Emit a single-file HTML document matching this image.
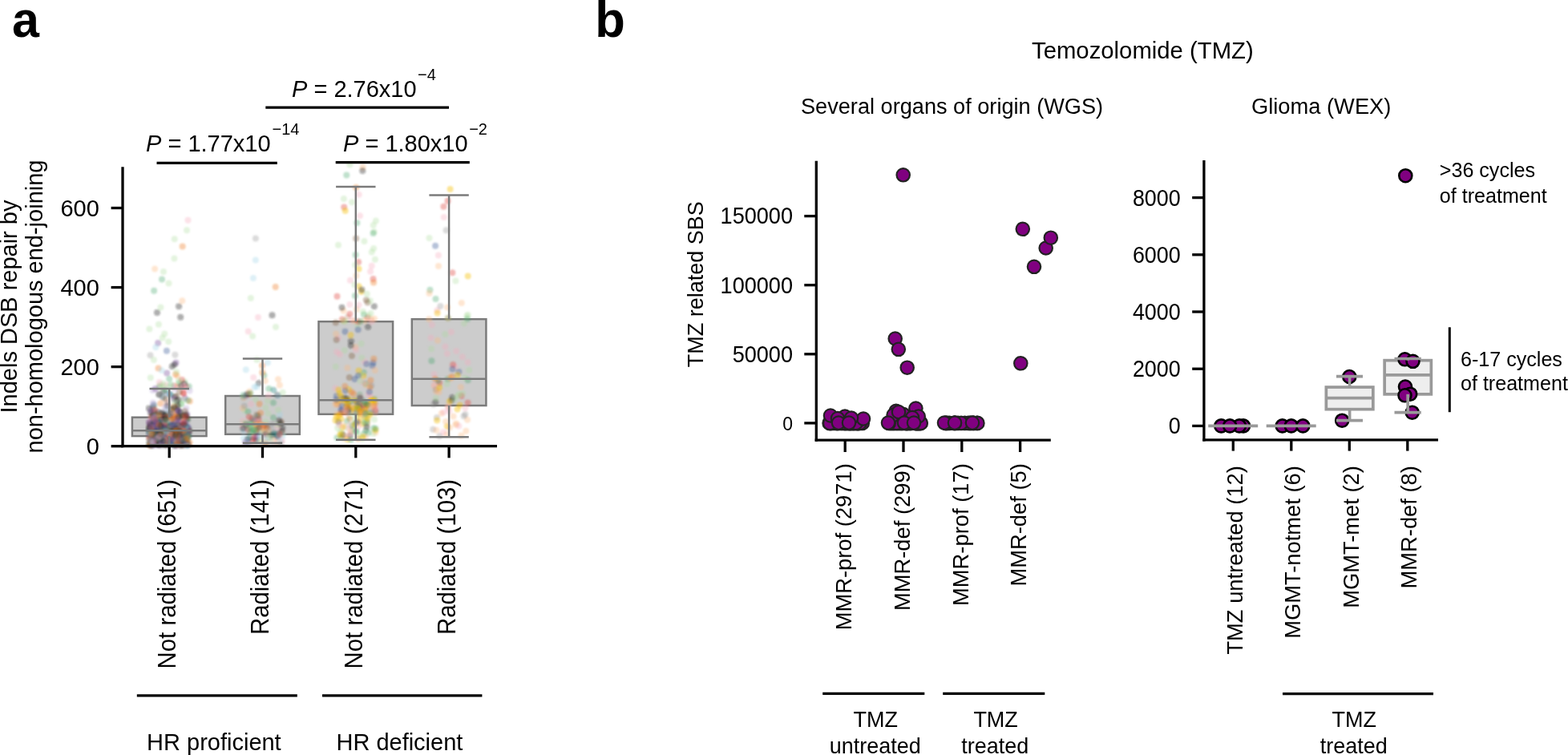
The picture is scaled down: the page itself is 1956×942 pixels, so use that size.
<!DOCTYPE html>
<html><head><meta charset="utf-8"><title>Figure</title>
<style>
html,body{margin:0;padding:0;background:#fff;}
svg{display:block;}
text{font-family:"Liberation Sans", Arial, Helvetica, sans-serif;fill:#000;}
</style></head>
<body>
<svg width="1956" height="942" viewBox="0 0 1956 942">
<defs><filter id="soft" x="0" y="0" width="1" height="1" filterUnits="objectBoundingBox"><feGaussianBlur stdDeviation="0.9"/></filter></defs>
<rect width="1956" height="942" fill="#fff"/>
<text transform="translate(15.00,46.10) scale(1,1.03)" font-size="61" text-anchor="start" font-weight="bold">a</text>
<rect x="164.90" y="520.70" width="92.60" height="23.40" fill="#cccccc" stroke="#7b7b7b" stroke-width="2.5"/>
<rect x="281.20" y="494.00" width="92.60" height="47.80" fill="#cccccc" stroke="#7b7b7b" stroke-width="2.5"/>
<rect x="397.50" y="401.20" width="92.60" height="115.60" fill="#cccccc" stroke="#7b7b7b" stroke-width="2.5"/>
<rect x="513.80" y="398.20" width="92.60" height="107.80" fill="#cccccc" stroke="#7b7b7b" stroke-width="2.5"/>
<g filter="url(#soft)">
<circle cx="206.4" cy="540.9" r="4.0" fill="#7a4a9c" fill-opacity="0.374"/>
<circle cx="188.7" cy="544.1" r="4.0" fill="#1c7c78" fill-opacity="0.374"/>
<circle cx="186.3" cy="527.6" r="4.0" fill="#f6a9bd" fill-opacity="0.340"/>
<circle cx="233.7" cy="523.6" r="4.0" fill="#222222" fill-opacity="0.374"/>
<circle cx="195.9" cy="549.5" r="4.0" fill="#e0413a" fill-opacity="0.374"/>
<circle cx="211.6" cy="520.7" r="4.0" fill="#888888" fill-opacity="0.306"/>
<circle cx="227.2" cy="549.9" r="4.0" fill="#222222" fill-opacity="0.374"/>
<circle cx="201.5" cy="525.1" r="4.0" fill="#7a4a9c" fill-opacity="0.374"/>
<circle cx="188.2" cy="552.9" r="4.0" fill="#fbb77a" fill-opacity="0.340"/>
<circle cx="225.6" cy="551.8" r="4.0" fill="#1c7c78" fill-opacity="0.374"/>
<circle cx="186.0" cy="534.0" r="4.0" fill="#7d5a3c" fill-opacity="0.374"/>
<circle cx="223.7" cy="536.3" r="4.0" fill="#a8dc98" fill-opacity="0.306"/>
<circle cx="223.5" cy="477.9" r="4.0" fill="#2e9e5b" fill-opacity="0.306"/>
<circle cx="197.2" cy="520.7" r="4.0" fill="#222222" fill-opacity="0.374"/>
<circle cx="197.5" cy="555.1" r="4.0" fill="#222222" fill-opacity="0.374"/>
<circle cx="202.8" cy="543.3" r="4.0" fill="#1c7c78" fill-opacity="0.374"/>
<circle cx="221.2" cy="544.0" r="4.0" fill="#7d5a3c" fill-opacity="0.374"/>
<circle cx="222.0" cy="522.1" r="4.0" fill="#7a4a9c" fill-opacity="0.374"/>
<circle cx="213.9" cy="540.6" r="4.0" fill="#a8dc98" fill-opacity="0.306"/>
<circle cx="225.9" cy="504.0" r="4.0" fill="#2e9e5b" fill-opacity="0.306"/>
<circle cx="199.2" cy="543.4" r="4.0" fill="#888888" fill-opacity="0.306"/>
<circle cx="234.9" cy="535.1" r="4.0" fill="#222222" fill-opacity="0.374"/>
<circle cx="230.6" cy="476.3" r="4.0" fill="#a8dc98" fill-opacity="0.306"/>
<circle cx="199.0" cy="536.9" r="4.0" fill="#7a4a9c" fill-opacity="0.374"/>
<circle cx="223.6" cy="523.2" r="4.0" fill="#3a5a9a" fill-opacity="0.374"/>
<circle cx="223.8" cy="550.0" r="4.0" fill="#7a4a9c" fill-opacity="0.374"/>
<circle cx="230.6" cy="496.7" r="4.0" fill="#7a4a9c" fill-opacity="0.374"/>
<circle cx="197.9" cy="516.6" r="4.0" fill="#b9a3d6" fill-opacity="0.340"/>
<circle cx="217.9" cy="537.2" r="4.0" fill="#9fd3e8" fill-opacity="0.340"/>
<circle cx="219.6" cy="546.8" r="4.0" fill="#3a5a9a" fill-opacity="0.374"/>
<circle cx="209.6" cy="543.7" r="4.0" fill="#7d5a3c" fill-opacity="0.374"/>
<circle cx="221.3" cy="469.3" r="4.0" fill="#fbb77a" fill-opacity="0.340"/>
<circle cx="208.0" cy="530.9" r="4.0" fill="#1c7c78" fill-opacity="0.374"/>
<circle cx="214.8" cy="541.5" r="4.0" fill="#7a4a9c" fill-opacity="0.374"/>
<circle cx="196.5" cy="518.3" r="4.0" fill="#e0413a" fill-opacity="0.374"/>
<circle cx="189.7" cy="550.5" r="4.0" fill="#b9a3d6" fill-opacity="0.340"/>
<circle cx="193.1" cy="543.5" r="4.0" fill="#222222" fill-opacity="0.374"/>
<circle cx="191.1" cy="548.1" r="4.0" fill="#b9a3d6" fill-opacity="0.340"/>
<circle cx="203.3" cy="495.7" r="4.0" fill="#222222" fill-opacity="0.374"/>
<circle cx="187.2" cy="532.1" r="4.0" fill="#222222" fill-opacity="0.374"/>
<circle cx="221.0" cy="540.1" r="4.0" fill="#888888" fill-opacity="0.306"/>
<circle cx="221.2" cy="549.3" r="4.0" fill="#1c7c78" fill-opacity="0.374"/>
<circle cx="189.1" cy="520.4" r="4.0" fill="#e0413a" fill-opacity="0.374"/>
<circle cx="204.2" cy="535.9" r="4.0" fill="#7d5a3c" fill-opacity="0.374"/>
<circle cx="227.5" cy="531.7" r="4.0" fill="#fbb77a" fill-opacity="0.340"/>
<circle cx="189.1" cy="551.3" r="4.0" fill="#7d5a3c" fill-opacity="0.374"/>
<circle cx="232.3" cy="509.4" r="4.0" fill="#b9a3d6" fill-opacity="0.340"/>
<circle cx="191.2" cy="522.7" r="4.0" fill="#222222" fill-opacity="0.374"/>
<circle cx="191.4" cy="515.3" r="4.0" fill="#222222" fill-opacity="0.374"/>
<circle cx="228.9" cy="539.1" r="4.0" fill="#7d5a3c" fill-opacity="0.374"/>
<circle cx="218.0" cy="525.4" r="4.0" fill="#7d5a3c" fill-opacity="0.374"/>
<circle cx="217.9" cy="536.8" r="4.0" fill="#7a4a9c" fill-opacity="0.374"/>
<circle cx="190.8" cy="539.4" r="4.0" fill="#222222" fill-opacity="0.374"/>
<circle cx="224.3" cy="555.6" r="4.0" fill="#222222" fill-opacity="0.374"/>
<circle cx="202.0" cy="348.6" r="4.0" fill="#2e9e5b" fill-opacity="0.306"/>
<circle cx="186.8" cy="538.7" r="4.0" fill="#7a4a9c" fill-opacity="0.374"/>
<circle cx="200.1" cy="548.4" r="4.0" fill="#1c7c78" fill-opacity="0.374"/>
<circle cx="204.5" cy="527.1" r="4.0" fill="#7a4a9c" fill-opacity="0.374"/>
<circle cx="234.9" cy="541.6" r="4.0" fill="#2e9e5b" fill-opacity="0.306"/>
<circle cx="229.1" cy="490.9" r="4.0" fill="#e0413a" fill-opacity="0.374"/>
<circle cx="187.3" cy="536.7" r="4.0" fill="#f07f22" fill-opacity="0.374"/>
<circle cx="208.0" cy="547.1" r="4.0" fill="#1c7c78" fill-opacity="0.374"/>
<circle cx="203.4" cy="493.9" r="4.0" fill="#9fd3e8" fill-opacity="0.340"/>
<circle cx="213.1" cy="536.5" r="4.0" fill="#222222" fill-opacity="0.374"/>
<circle cx="229.7" cy="543.6" r="4.0" fill="#222222" fill-opacity="0.374"/>
<circle cx="227.5" cy="537.2" r="4.0" fill="#222222" fill-opacity="0.374"/>
<circle cx="185.8" cy="509.4" r="4.0" fill="#222222" fill-opacity="0.374"/>
<circle cx="224.6" cy="520.9" r="4.0" fill="#3a5a9a" fill-opacity="0.374"/>
<circle cx="185.9" cy="535.9" r="4.0" fill="#2e9e5b" fill-opacity="0.306"/>
<circle cx="210.8" cy="537.5" r="4.0" fill="#7d5a3c" fill-opacity="0.374"/>
<circle cx="195.1" cy="553.4" r="4.0" fill="#2e9e5b" fill-opacity="0.306"/>
<circle cx="203.4" cy="527.0" r="4.0" fill="#7d5a3c" fill-opacity="0.374"/>
<circle cx="199.0" cy="539.5" r="4.0" fill="#b9a3d6" fill-opacity="0.340"/>
<circle cx="200.2" cy="480.3" r="4.0" fill="#a8dc98" fill-opacity="0.306"/>
<circle cx="221.4" cy="519.0" r="4.0" fill="#2e9e5b" fill-opacity="0.306"/>
<circle cx="191.3" cy="511.2" r="4.0" fill="#888888" fill-opacity="0.306"/>
<circle cx="189.8" cy="519.6" r="4.0" fill="#7d5a3c" fill-opacity="0.374"/>
<circle cx="221.3" cy="543.5" r="4.0" fill="#1c7c78" fill-opacity="0.374"/>
<circle cx="217.7" cy="518.2" r="4.0" fill="#f07f22" fill-opacity="0.374"/>
<circle cx="206.2" cy="546.1" r="4.0" fill="#f07f22" fill-opacity="0.374"/>
<circle cx="231.1" cy="538.2" r="4.0" fill="#222222" fill-opacity="0.374"/>
<circle cx="231.0" cy="537.1" r="4.0" fill="#222222" fill-opacity="0.374"/>
<circle cx="196.2" cy="536.4" r="4.0" fill="#7a4a9c" fill-opacity="0.374"/>
<circle cx="231.7" cy="544.6" r="4.0" fill="#2e9e5b" fill-opacity="0.306"/>
<circle cx="205.0" cy="541.7" r="4.0" fill="#fbb77a" fill-opacity="0.340"/>
<circle cx="197.6" cy="542.6" r="4.0" fill="#a8dc98" fill-opacity="0.306"/>
<circle cx="212.8" cy="520.6" r="4.0" fill="#1c7c78" fill-opacity="0.374"/>
<circle cx="224.1" cy="533.9" r="4.0" fill="#888888" fill-opacity="0.306"/>
<circle cx="203.5" cy="545.4" r="4.0" fill="#7a4a9c" fill-opacity="0.374"/>
<circle cx="193.6" cy="532.8" r="4.0" fill="#7d5a3c" fill-opacity="0.374"/>
<circle cx="219.5" cy="452.6" r="4.0" fill="#7a4a9c" fill-opacity="0.374"/>
<circle cx="194.3" cy="539.6" r="4.0" fill="#a8dc98" fill-opacity="0.306"/>
<circle cx="225.1" cy="550.9" r="4.0" fill="#e0413a" fill-opacity="0.374"/>
<circle cx="192.1" cy="362.8" r="4.0" fill="#2e9e5b" fill-opacity="0.306"/>
<circle cx="230.8" cy="525.9" r="4.0" fill="#7a4a9c" fill-opacity="0.374"/>
<circle cx="195.5" cy="543.2" r="4.0" fill="#7a4a9c" fill-opacity="0.374"/>
<circle cx="221.6" cy="545.6" r="4.0" fill="#7d5a3c" fill-opacity="0.374"/>
<circle cx="193.6" cy="526.4" r="4.0" fill="#222222" fill-opacity="0.374"/>
<circle cx="198.3" cy="555.2" r="4.0" fill="#7a4a9c" fill-opacity="0.374"/>
<circle cx="212.3" cy="536.4" r="4.0" fill="#222222" fill-opacity="0.374"/>
<circle cx="202.4" cy="514.8" r="4.0" fill="#222222" fill-opacity="0.374"/>
<circle cx="235.4" cy="534.9" r="4.0" fill="#1c7c78" fill-opacity="0.374"/>
<circle cx="190.9" cy="521.7" r="4.0" fill="#3a5a9a" fill-opacity="0.374"/>
<circle cx="190.9" cy="552.6" r="4.0" fill="#f07f22" fill-opacity="0.374"/>
<circle cx="235.9" cy="537.0" r="4.0" fill="#7d5a3c" fill-opacity="0.374"/>
<circle cx="223.1" cy="549.8" r="4.0" fill="#a8dc98" fill-opacity="0.306"/>
<circle cx="195.7" cy="553.6" r="4.0" fill="#888888" fill-opacity="0.306"/>
<circle cx="191.2" cy="530.2" r="4.0" fill="#222222" fill-opacity="0.374"/>
<circle cx="205.5" cy="545.3" r="4.0" fill="#222222" fill-opacity="0.374"/>
<circle cx="206.1" cy="536.8" r="4.0" fill="#7d5a3c" fill-opacity="0.374"/>
<circle cx="221.1" cy="541.8" r="4.0" fill="#2e9e5b" fill-opacity="0.306"/>
<circle cx="218.0" cy="536.7" r="4.0" fill="#a8dc98" fill-opacity="0.306"/>
<circle cx="192.9" cy="526.9" r="4.0" fill="#e0413a" fill-opacity="0.374"/>
<circle cx="206.3" cy="552.6" r="4.0" fill="#1c7c78" fill-opacity="0.374"/>
<circle cx="232.0" cy="545.2" r="4.0" fill="#a8dc98" fill-opacity="0.306"/>
<circle cx="215.0" cy="510.1" r="4.0" fill="#1c7c78" fill-opacity="0.374"/>
<circle cx="207.2" cy="547.0" r="4.0" fill="#7a4a9c" fill-opacity="0.374"/>
<circle cx="222.5" cy="525.3" r="4.0" fill="#fbb77a" fill-opacity="0.340"/>
<circle cx="225.2" cy="395.8" r="4.0" fill="#222222" fill-opacity="0.374"/>
<circle cx="229.2" cy="550.6" r="4.0" fill="#9fd3e8" fill-opacity="0.340"/>
<circle cx="218.4" cy="539.7" r="4.0" fill="#a8dc98" fill-opacity="0.306"/>
<circle cx="201.7" cy="536.7" r="4.0" fill="#e0413a" fill-opacity="0.374"/>
<circle cx="190.7" cy="519.6" r="4.0" fill="#f07f22" fill-opacity="0.374"/>
<circle cx="225.6" cy="541.0" r="4.0" fill="#1c7c78" fill-opacity="0.374"/>
<circle cx="217.8" cy="520.5" r="4.0" fill="#7a4a9c" fill-opacity="0.374"/>
<circle cx="207.3" cy="544.2" r="4.0" fill="#a8dc98" fill-opacity="0.306"/>
<circle cx="217.4" cy="536.3" r="4.0" fill="#f07f22" fill-opacity="0.374"/>
<circle cx="220.1" cy="526.6" r="4.0" fill="#b9a3d6" fill-opacity="0.340"/>
<circle cx="195.0" cy="551.0" r="4.0" fill="#888888" fill-opacity="0.306"/>
<circle cx="225.4" cy="540.4" r="4.0" fill="#f07f22" fill-opacity="0.374"/>
<circle cx="210.7" cy="491.1" r="4.0" fill="#3a5a9a" fill-opacity="0.374"/>
<circle cx="187.6" cy="551.4" r="4.0" fill="#f6a9bd" fill-opacity="0.340"/>
<circle cx="193.9" cy="517.4" r="4.0" fill="#1c7c78" fill-opacity="0.374"/>
<circle cx="233.7" cy="522.3" r="4.0" fill="#2e9e5b" fill-opacity="0.306"/>
<circle cx="190.9" cy="533.6" r="4.0" fill="#e0413a" fill-opacity="0.374"/>
<circle cx="213.3" cy="553.0" r="4.0" fill="#1c7c78" fill-opacity="0.374"/>
<circle cx="211.8" cy="550.7" r="4.0" fill="#888888" fill-opacity="0.306"/>
<circle cx="228.0" cy="542.8" r="4.0" fill="#2e9e5b" fill-opacity="0.306"/>
<circle cx="206.6" cy="545.0" r="4.0" fill="#3a5a9a" fill-opacity="0.374"/>
<circle cx="196.4" cy="539.8" r="4.0" fill="#9fd3e8" fill-opacity="0.340"/>
<circle cx="205.7" cy="554.1" r="4.0" fill="#1c7c78" fill-opacity="0.374"/>
<circle cx="191.9" cy="537.7" r="4.0" fill="#3a5a9a" fill-opacity="0.374"/>
<circle cx="203.8" cy="488.2" r="4.0" fill="#222222" fill-opacity="0.374"/>
<circle cx="199.7" cy="539.9" r="4.0" fill="#f07f22" fill-opacity="0.374"/>
<circle cx="186.4" cy="535.5" r="4.0" fill="#f07f22" fill-opacity="0.374"/>
<circle cx="207.1" cy="541.1" r="4.0" fill="#9fd3e8" fill-opacity="0.340"/>
<circle cx="203.7" cy="478.4" r="4.0" fill="#a8dc98" fill-opacity="0.306"/>
<circle cx="197.1" cy="427.9" r="4.0" fill="#7a4a9c" fill-opacity="0.374"/>
<circle cx="233.6" cy="544.7" r="4.0" fill="#2e9e5b" fill-opacity="0.306"/>
<circle cx="196.9" cy="540.8" r="4.0" fill="#7d5a3c" fill-opacity="0.374"/>
<circle cx="205.7" cy="554.6" r="4.0" fill="#222222" fill-opacity="0.374"/>
<circle cx="192.3" cy="518.8" r="4.0" fill="#1c7c78" fill-opacity="0.374"/>
<circle cx="227.0" cy="474.1" r="4.0" fill="#e0413a" fill-opacity="0.374"/>
<circle cx="209.6" cy="526.3" r="4.0" fill="#f6a9bd" fill-opacity="0.340"/>
<circle cx="197.2" cy="537.2" r="4.0" fill="#3a5a9a" fill-opacity="0.374"/>
<circle cx="203.7" cy="546.6" r="4.0" fill="#888888" fill-opacity="0.306"/>
<circle cx="227.5" cy="547.8" r="4.0" fill="#7d5a3c" fill-opacity="0.374"/>
<circle cx="209.6" cy="554.5" r="4.0" fill="#7a4a9c" fill-opacity="0.374"/>
<circle cx="213.7" cy="510.9" r="4.0" fill="#222222" fill-opacity="0.374"/>
<circle cx="228.2" cy="548.0" r="4.0" fill="#f07f22" fill-opacity="0.374"/>
<circle cx="229.1" cy="527.8" r="4.0" fill="#7a4a9c" fill-opacity="0.374"/>
<circle cx="204.9" cy="532.5" r="4.0" fill="#7a4a9c" fill-opacity="0.374"/>
<circle cx="207.4" cy="530.8" r="4.0" fill="#222222" fill-opacity="0.374"/>
<circle cx="185.8" cy="554.1" r="4.0" fill="#1c7c78" fill-opacity="0.374"/>
<circle cx="200.0" cy="531.5" r="4.0" fill="#7a4a9c" fill-opacity="0.374"/>
<circle cx="201.1" cy="542.0" r="4.0" fill="#a8dc98" fill-opacity="0.306"/>
<circle cx="207.6" cy="541.3" r="4.0" fill="#888888" fill-opacity="0.306"/>
<circle cx="219.3" cy="547.5" r="4.0" fill="#f07f22" fill-opacity="0.374"/>
<circle cx="233.1" cy="520.7" r="4.0" fill="#7d5a3c" fill-opacity="0.374"/>
<circle cx="188.6" cy="537.1" r="4.0" fill="#7d5a3c" fill-opacity="0.374"/>
<circle cx="231.9" cy="551.7" r="4.0" fill="#1c7c78" fill-opacity="0.374"/>
<circle cx="192.9" cy="536.7" r="4.0" fill="#7d5a3c" fill-opacity="0.374"/>
<circle cx="218.0" cy="495.1" r="4.0" fill="#222222" fill-opacity="0.374"/>
<circle cx="186.3" cy="541.8" r="4.0" fill="#3a5a9a" fill-opacity="0.374"/>
<circle cx="219.2" cy="556.2" r="4.0" fill="#7a4a9c" fill-opacity="0.374"/>
<circle cx="190.9" cy="508.0" r="4.0" fill="#222222" fill-opacity="0.374"/>
<circle cx="197.6" cy="459.4" r="4.0" fill="#f07f22" fill-opacity="0.374"/>
<circle cx="203.4" cy="547.8" r="4.0" fill="#222222" fill-opacity="0.374"/>
<circle cx="231.8" cy="535.7" r="4.0" fill="#7d5a3c" fill-opacity="0.374"/>
<circle cx="194.3" cy="433.2" r="4.0" fill="#9fd3e8" fill-opacity="0.340"/>
<circle cx="216.7" cy="532.6" r="4.0" fill="#1c7c78" fill-opacity="0.374"/>
<circle cx="219.8" cy="543.9" r="4.0" fill="#fbb77a" fill-opacity="0.340"/>
<circle cx="225.9" cy="543.0" r="4.0" fill="#7d5a3c" fill-opacity="0.374"/>
<circle cx="195.8" cy="548.2" r="4.0" fill="#9fd3e8" fill-opacity="0.340"/>
<circle cx="212.8" cy="492.4" r="4.0" fill="#1c7c78" fill-opacity="0.374"/>
<circle cx="208.1" cy="502.2" r="4.0" fill="#fbb77a" fill-opacity="0.340"/>
<circle cx="214.0" cy="539.9" r="4.0" fill="#7a4a9c" fill-opacity="0.374"/>
<circle cx="197.6" cy="548.2" r="4.0" fill="#222222" fill-opacity="0.374"/>
<circle cx="210.8" cy="519.3" r="4.0" fill="#222222" fill-opacity="0.374"/>
<circle cx="209.5" cy="515.7" r="4.0" fill="#222222" fill-opacity="0.374"/>
<circle cx="210.8" cy="544.3" r="4.0" fill="#2e9e5b" fill-opacity="0.306"/>
<circle cx="213.2" cy="545.8" r="4.0" fill="#7d5a3c" fill-opacity="0.374"/>
<circle cx="186.0" cy="547.5" r="4.0" fill="#7d5a3c" fill-opacity="0.374"/>
<circle cx="209.6" cy="544.8" r="4.0" fill="#f6a9bd" fill-opacity="0.340"/>
<circle cx="219.6" cy="494.5" r="4.0" fill="#7d5a3c" fill-opacity="0.374"/>
<circle cx="204.8" cy="553.9" r="4.0" fill="#f07f22" fill-opacity="0.374"/>
<circle cx="234.7" cy="540.2" r="4.0" fill="#222222" fill-opacity="0.374"/>
<circle cx="218.2" cy="543.9" r="4.0" fill="#888888" fill-opacity="0.306"/>
<circle cx="187.2" cy="538.9" r="4.0" fill="#e0413a" fill-opacity="0.374"/>
<circle cx="220.5" cy="543.8" r="4.0" fill="#b9a3d6" fill-opacity="0.340"/>
<circle cx="202.6" cy="543.0" r="4.0" fill="#3a5a9a" fill-opacity="0.374"/>
<circle cx="211.7" cy="534.3" r="4.0" fill="#2e9e5b" fill-opacity="0.306"/>
<circle cx="231.5" cy="538.8" r="4.0" fill="#222222" fill-opacity="0.374"/>
<circle cx="222.3" cy="520.3" r="4.0" fill="#e0413a" fill-opacity="0.374"/>
<circle cx="203.0" cy="528.9" r="4.0" fill="#7d5a3c" fill-opacity="0.374"/>
<circle cx="204.4" cy="551.5" r="4.0" fill="#a8dc98" fill-opacity="0.306"/>
<circle cx="212.5" cy="529.2" r="4.0" fill="#1c7c78" fill-opacity="0.374"/>
<circle cx="196.4" cy="520.5" r="4.0" fill="#a8dc98" fill-opacity="0.306"/>
<circle cx="207.2" cy="537.0" r="4.0" fill="#f6a9bd" fill-opacity="0.340"/>
<circle cx="227.9" cy="548.9" r="4.0" fill="#7a4a9c" fill-opacity="0.374"/>
<circle cx="227.9" cy="482.3" r="4.0" fill="#a8dc98" fill-opacity="0.306"/>
<circle cx="211.4" cy="546.4" r="4.0" fill="#7a4a9c" fill-opacity="0.374"/>
<circle cx="211.5" cy="548.6" r="4.0" fill="#3a5a9a" fill-opacity="0.374"/>
<circle cx="219.1" cy="467.0" r="4.0" fill="#f07f22" fill-opacity="0.374"/>
<circle cx="202.6" cy="421.4" r="4.0" fill="#a8dc98" fill-opacity="0.306"/>
<circle cx="201.0" cy="535.4" r="4.0" fill="#e0413a" fill-opacity="0.374"/>
<circle cx="218.1" cy="539.4" r="4.0" fill="#1c7c78" fill-opacity="0.374"/>
<circle cx="187.7" cy="547.2" r="4.0" fill="#1c7c78" fill-opacity="0.374"/>
<circle cx="230.9" cy="538.7" r="4.0" fill="#f6a9bd" fill-opacity="0.340"/>
<circle cx="188.2" cy="540.6" r="4.0" fill="#7a4a9c" fill-opacity="0.374"/>
<circle cx="186.0" cy="539.3" r="4.0" fill="#222222" fill-opacity="0.374"/>
<circle cx="232.7" cy="535.5" r="4.0" fill="#e0413a" fill-opacity="0.374"/>
<circle cx="219.3" cy="548.5" r="4.0" fill="#7d5a3c" fill-opacity="0.374"/>
<circle cx="232.1" cy="482.4" r="4.0" fill="#e0413a" fill-opacity="0.374"/>
<circle cx="217.2" cy="481.4" r="4.0" fill="#e0413a" fill-opacity="0.374"/>
<circle cx="221.2" cy="541.9" r="4.0" fill="#e0413a" fill-opacity="0.374"/>
<circle cx="220.4" cy="542.7" r="4.0" fill="#222222" fill-opacity="0.374"/>
<circle cx="219.7" cy="528.5" r="4.0" fill="#a8dc98" fill-opacity="0.306"/>
<circle cx="224.6" cy="553.1" r="4.0" fill="#222222" fill-opacity="0.374"/>
<circle cx="194.9" cy="532.7" r="4.0" fill="#222222" fill-opacity="0.374"/>
<circle cx="225.2" cy="542.3" r="4.0" fill="#b9a3d6" fill-opacity="0.340"/>
<circle cx="219.1" cy="543.7" r="4.0" fill="#f07f22" fill-opacity="0.374"/>
<circle cx="227.7" cy="307.5" r="4.0" fill="#f07f22" fill-opacity="0.374"/>
<circle cx="214.4" cy="538.8" r="4.0" fill="#7a4a9c" fill-opacity="0.374"/>
<circle cx="201.1" cy="541.4" r="4.0" fill="#f07f22" fill-opacity="0.374"/>
<circle cx="201.9" cy="537.2" r="4.0" fill="#a8dc98" fill-opacity="0.306"/>
<circle cx="218.4" cy="484.9" r="4.0" fill="#b9a3d6" fill-opacity="0.340"/>
<circle cx="188.5" cy="522.0" r="4.0" fill="#f6a9bd" fill-opacity="0.340"/>
<circle cx="187.7" cy="536.2" r="4.0" fill="#222222" fill-opacity="0.374"/>
<circle cx="227.0" cy="527.3" r="4.0" fill="#e0413a" fill-opacity="0.374"/>
<circle cx="232.6" cy="555.2" r="4.0" fill="#a8dc98" fill-opacity="0.306"/>
<circle cx="186.4" cy="410.5" r="4.0" fill="#a8dc98" fill-opacity="0.306"/>
<circle cx="215.9" cy="547.0" r="4.0" fill="#b9a3d6" fill-opacity="0.340"/>
<circle cx="235.7" cy="482.3" r="4.0" fill="#2e9e5b" fill-opacity="0.306"/>
<circle cx="206.7" cy="555.4" r="4.0" fill="#222222" fill-opacity="0.374"/>
<circle cx="218.6" cy="541.0" r="4.0" fill="#222222" fill-opacity="0.374"/>
<circle cx="193.4" cy="542.1" r="4.0" fill="#222222" fill-opacity="0.374"/>
<circle cx="185.9" cy="537.9" r="4.0" fill="#9fd3e8" fill-opacity="0.340"/>
<circle cx="191.9" cy="528.0" r="4.0" fill="#3a5a9a" fill-opacity="0.374"/>
<circle cx="190.2" cy="517.5" r="4.0" fill="#7d5a3c" fill-opacity="0.374"/>
<circle cx="192.3" cy="537.8" r="4.0" fill="#222222" fill-opacity="0.374"/>
<circle cx="222.4" cy="528.0" r="4.0" fill="#7a4a9c" fill-opacity="0.374"/>
<circle cx="223.1" cy="475.0" r="4.0" fill="#a8dc98" fill-opacity="0.306"/>
<circle cx="188.3" cy="542.5" r="4.0" fill="#1c7c78" fill-opacity="0.374"/>
<circle cx="222.1" cy="482.4" r="4.0" fill="#fbb77a" fill-opacity="0.340"/>
<circle cx="222.9" cy="540.6" r="4.0" fill="#222222" fill-opacity="0.374"/>
<circle cx="217.8" cy="454.7" r="4.0" fill="#222222" fill-opacity="0.374"/>
<circle cx="209.2" cy="503.0" r="4.0" fill="#b9a3d6" fill-opacity="0.340"/>
<circle cx="198.7" cy="482.4" r="4.0" fill="#888888" fill-opacity="0.306"/>
<circle cx="222.3" cy="540.0" r="4.0" fill="#222222" fill-opacity="0.374"/>
<circle cx="186.5" cy="531.3" r="4.0" fill="#888888" fill-opacity="0.306"/>
<circle cx="227.4" cy="538.5" r="4.0" fill="#222222" fill-opacity="0.374"/>
<circle cx="201.6" cy="543.6" r="4.0" fill="#1c7c78" fill-opacity="0.374"/>
<circle cx="194.2" cy="550.6" r="4.0" fill="#7d5a3c" fill-opacity="0.374"/>
<circle cx="210.5" cy="353.4" r="4.0" fill="#a8dc98" fill-opacity="0.306"/>
<circle cx="204.4" cy="540.3" r="4.0" fill="#e0413a" fill-opacity="0.374"/>
<circle cx="208.1" cy="510.5" r="4.0" fill="#9fd3e8" fill-opacity="0.340"/>
<circle cx="193.1" cy="552.8" r="4.0" fill="#7d5a3c" fill-opacity="0.374"/>
<circle cx="204.2" cy="538.4" r="4.0" fill="#888888" fill-opacity="0.306"/>
<circle cx="217.8" cy="537.2" r="4.0" fill="#f07f22" fill-opacity="0.374"/>
<circle cx="205.4" cy="538.6" r="4.0" fill="#1c7c78" fill-opacity="0.374"/>
<circle cx="233.9" cy="555.6" r="4.0" fill="#1c7c78" fill-opacity="0.374"/>
<circle cx="214.6" cy="551.2" r="4.0" fill="#7a4a9c" fill-opacity="0.374"/>
<circle cx="188.8" cy="538.3" r="4.0" fill="#3a5a9a" fill-opacity="0.374"/>
<circle cx="221.6" cy="506.9" r="4.0" fill="#7d5a3c" fill-opacity="0.374"/>
<circle cx="202.6" cy="539.0" r="4.0" fill="#e0413a" fill-opacity="0.374"/>
<circle cx="235.5" cy="539.1" r="4.0" fill="#7d5a3c" fill-opacity="0.374"/>
<circle cx="216.4" cy="497.4" r="4.0" fill="#7a4a9c" fill-opacity="0.374"/>
<circle cx="207.6" cy="551.8" r="4.0" fill="#fbb77a" fill-opacity="0.340"/>
<circle cx="204.9" cy="542.1" r="4.0" fill="#9fd3e8" fill-opacity="0.340"/>
<circle cx="216.4" cy="514.6" r="4.0" fill="#fbb77a" fill-opacity="0.340"/>
<circle cx="226.9" cy="541.8" r="4.0" fill="#7a4a9c" fill-opacity="0.374"/>
<circle cx="185.8" cy="537.0" r="4.0" fill="#7a4a9c" fill-opacity="0.374"/>
<circle cx="207.2" cy="480.8" r="4.0" fill="#f6a9bd" fill-opacity="0.340"/>
<circle cx="227.3" cy="519.8" r="4.0" fill="#fbb77a" fill-opacity="0.340"/>
<circle cx="187.9" cy="529.9" r="4.0" fill="#7d5a3c" fill-opacity="0.374"/>
<circle cx="227.1" cy="548.8" r="4.0" fill="#7d5a3c" fill-opacity="0.374"/>
<circle cx="214.9" cy="543.3" r="4.0" fill="#7a4a9c" fill-opacity="0.374"/>
<circle cx="229.1" cy="555.5" r="4.0" fill="#7d5a3c" fill-opacity="0.374"/>
<circle cx="220.6" cy="538.6" r="4.0" fill="#b9a3d6" fill-opacity="0.340"/>
<circle cx="203.4" cy="516.2" r="4.0" fill="#222222" fill-opacity="0.374"/>
<circle cx="213.9" cy="543.4" r="4.0" fill="#7d5a3c" fill-opacity="0.374"/>
<circle cx="195.9" cy="516.5" r="4.0" fill="#1c7c78" fill-opacity="0.374"/>
<circle cx="233.2" cy="517.0" r="4.0" fill="#7a4a9c" fill-opacity="0.374"/>
<circle cx="216.7" cy="554.3" r="4.0" fill="#9fd3e8" fill-opacity="0.340"/>
<circle cx="209.4" cy="533.1" r="4.0" fill="#222222" fill-opacity="0.374"/>
<circle cx="198.7" cy="544.5" r="4.0" fill="#1c7c78" fill-opacity="0.374"/>
<circle cx="226.1" cy="504.3" r="4.0" fill="#a8dc98" fill-opacity="0.306"/>
<circle cx="190.2" cy="532.0" r="4.0" fill="#7d5a3c" fill-opacity="0.374"/>
<circle cx="225.1" cy="545.9" r="4.0" fill="#7a4a9c" fill-opacity="0.374"/>
<circle cx="215.3" cy="542.6" r="4.0" fill="#fbb77a" fill-opacity="0.340"/>
<circle cx="230.8" cy="482.2" r="4.0" fill="#f6a9bd" fill-opacity="0.340"/>
<circle cx="210.0" cy="552.7" r="4.0" fill="#e0413a" fill-opacity="0.374"/>
<circle cx="195.3" cy="539.6" r="4.0" fill="#222222" fill-opacity="0.374"/>
<circle cx="194.9" cy="550.3" r="4.0" fill="#9fd3e8" fill-opacity="0.340"/>
<circle cx="204.2" cy="539.2" r="4.0" fill="#f6a9bd" fill-opacity="0.340"/>
<circle cx="206.2" cy="486.5" r="4.0" fill="#2e9e5b" fill-opacity="0.306"/>
<circle cx="193.3" cy="536.1" r="4.0" fill="#222222" fill-opacity="0.374"/>
<circle cx="236.6" cy="500.6" r="4.0" fill="#f07f22" fill-opacity="0.374"/>
<circle cx="191.1" cy="520.6" r="4.0" fill="#888888" fill-opacity="0.306"/>
<circle cx="225.9" cy="540.7" r="4.0" fill="#222222" fill-opacity="0.374"/>
<circle cx="216.2" cy="539.3" r="4.0" fill="#f07f22" fill-opacity="0.374"/>
<circle cx="212.2" cy="540.5" r="4.0" fill="#222222" fill-opacity="0.374"/>
<circle cx="187.4" cy="555.0" r="4.0" fill="#3a5a9a" fill-opacity="0.374"/>
<circle cx="229.9" cy="537.3" r="4.0" fill="#2e9e5b" fill-opacity="0.306"/>
<circle cx="214.6" cy="553.3" r="4.0" fill="#7a4a9c" fill-opacity="0.374"/>
<circle cx="225.4" cy="544.3" r="4.0" fill="#a8dc98" fill-opacity="0.306"/>
<circle cx="234.0" cy="549.2" r="4.0" fill="#1c7c78" fill-opacity="0.374"/>
<circle cx="227.5" cy="536.9" r="4.0" fill="#3a5a9a" fill-opacity="0.374"/>
<circle cx="198.7" cy="542.3" r="4.0" fill="#222222" fill-opacity="0.374"/>
<circle cx="196.0" cy="535.6" r="4.0" fill="#222222" fill-opacity="0.374"/>
<circle cx="190.0" cy="555.8" r="4.0" fill="#222222" fill-opacity="0.374"/>
<circle cx="214.1" cy="537.1" r="4.0" fill="#fbb77a" fill-opacity="0.340"/>
<circle cx="209.1" cy="538.1" r="4.0" fill="#3a5a9a" fill-opacity="0.374"/>
<circle cx="232.1" cy="518.7" r="4.0" fill="#222222" fill-opacity="0.374"/>
<circle cx="216.2" cy="523.1" r="4.0" fill="#f07f22" fill-opacity="0.374"/>
<circle cx="191.8" cy="548.4" r="4.0" fill="#3a5a9a" fill-opacity="0.374"/>
<circle cx="198.8" cy="477.1" r="4.0" fill="#f6a9bd" fill-opacity="0.340"/>
<circle cx="218.4" cy="442.8" r="4.0" fill="#888888" fill-opacity="0.306"/>
<circle cx="219.9" cy="543.7" r="4.0" fill="#f07f22" fill-opacity="0.374"/>
<circle cx="208.6" cy="506.3" r="4.0" fill="#222222" fill-opacity="0.374"/>
<circle cx="235.0" cy="554.8" r="4.0" fill="#3a5a9a" fill-opacity="0.374"/>
<circle cx="197.0" cy="513.9" r="4.0" fill="#222222" fill-opacity="0.374"/>
<circle cx="198.7" cy="543.6" r="4.0" fill="#f07f22" fill-opacity="0.374"/>
<circle cx="231.7" cy="529.1" r="4.0" fill="#b9a3d6" fill-opacity="0.340"/>
<circle cx="228.4" cy="529.4" r="4.0" fill="#222222" fill-opacity="0.374"/>
<circle cx="225.8" cy="537.2" r="4.0" fill="#9fd3e8" fill-opacity="0.340"/>
<circle cx="218.7" cy="524.7" r="4.0" fill="#3a5a9a" fill-opacity="0.374"/>
<circle cx="188.5" cy="556.0" r="4.0" fill="#222222" fill-opacity="0.374"/>
<circle cx="224.2" cy="534.8" r="4.0" fill="#b9a3d6" fill-opacity="0.340"/>
<circle cx="220.2" cy="464.1" r="4.0" fill="#a8dc98" fill-opacity="0.306"/>
<circle cx="215.9" cy="536.5" r="4.0" fill="#1c7c78" fill-opacity="0.374"/>
<circle cx="191.1" cy="549.4" r="4.0" fill="#7a4a9c" fill-opacity="0.374"/>
<circle cx="198.8" cy="529.7" r="4.0" fill="#222222" fill-opacity="0.374"/>
<circle cx="210.2" cy="426.3" r="4.0" fill="#a8dc98" fill-opacity="0.306"/>
<circle cx="197.9" cy="404.7" r="4.0" fill="#a8dc98" fill-opacity="0.306"/>
<circle cx="220.3" cy="500.3" r="4.0" fill="#222222" fill-opacity="0.374"/>
<circle cx="222.3" cy="538.4" r="4.0" fill="#222222" fill-opacity="0.374"/>
<circle cx="187.5" cy="443.3" r="4.0" fill="#888888" fill-opacity="0.306"/>
<circle cx="196.9" cy="548.9" r="4.0" fill="#b9a3d6" fill-opacity="0.340"/>
<circle cx="229.9" cy="554.3" r="4.0" fill="#fbb77a" fill-opacity="0.340"/>
<circle cx="192.8" cy="506.1" r="4.0" fill="#a8dc98" fill-opacity="0.306"/>
<circle cx="190.6" cy="487.1" r="4.0" fill="#b9a3d6" fill-opacity="0.340"/>
<circle cx="228.7" cy="534.2" r="4.0" fill="#e0413a" fill-opacity="0.374"/>
<circle cx="208.8" cy="520.0" r="4.0" fill="#f07f22" fill-opacity="0.374"/>
<circle cx="227.7" cy="499.2" r="4.0" fill="#a8dc98" fill-opacity="0.306"/>
<circle cx="217.7" cy="298.2" r="4.0" fill="#a8dc98" fill-opacity="0.306"/>
<circle cx="197.0" cy="525.0" r="4.0" fill="#222222" fill-opacity="0.374"/>
<circle cx="222.1" cy="524.9" r="4.0" fill="#f6a9bd" fill-opacity="0.340"/>
<circle cx="193.1" cy="335.4" r="4.0" fill="#fbb77a" fill-opacity="0.340"/>
<circle cx="199.3" cy="552.3" r="4.0" fill="#f07f22" fill-opacity="0.374"/>
<circle cx="193.6" cy="554.8" r="4.0" fill="#7a4a9c" fill-opacity="0.374"/>
<circle cx="228.5" cy="520.2" r="4.0" fill="#f07f22" fill-opacity="0.374"/>
<circle cx="194.3" cy="537.1" r="4.0" fill="#2e9e5b" fill-opacity="0.306"/>
<circle cx="201.9" cy="552.4" r="4.0" fill="#b9a3d6" fill-opacity="0.340"/>
<circle cx="191.5" cy="505.1" r="4.0" fill="#3a5a9a" fill-opacity="0.374"/>
<circle cx="188.6" cy="547.4" r="4.0" fill="#fbb77a" fill-opacity="0.340"/>
<circle cx="219.8" cy="539.8" r="4.0" fill="#222222" fill-opacity="0.374"/>
<circle cx="210.1" cy="540.2" r="4.0" fill="#7a4a9c" fill-opacity="0.374"/>
<circle cx="198.8" cy="482.4" r="4.0" fill="#a8dc98" fill-opacity="0.306"/>
<circle cx="204.3" cy="525.7" r="4.0" fill="#3a5a9a" fill-opacity="0.374"/>
<circle cx="236.6" cy="487.6" r="4.0" fill="#b9a3d6" fill-opacity="0.340"/>
<circle cx="190.7" cy="530.6" r="4.0" fill="#7a4a9c" fill-opacity="0.374"/>
<circle cx="231.4" cy="517.2" r="4.0" fill="#222222" fill-opacity="0.374"/>
<circle cx="222.8" cy="549.0" r="4.0" fill="#7a4a9c" fill-opacity="0.374"/>
<circle cx="235.6" cy="538.5" r="4.0" fill="#222222" fill-opacity="0.374"/>
<circle cx="226.9" cy="545.5" r="4.0" fill="#f07f22" fill-opacity="0.374"/>
<circle cx="192.8" cy="550.4" r="4.0" fill="#222222" fill-opacity="0.374"/>
<circle cx="228.1" cy="533.5" r="4.0" fill="#2e9e5b" fill-opacity="0.306"/>
<circle cx="195.2" cy="546.9" r="4.0" fill="#a8dc98" fill-opacity="0.306"/>
<circle cx="232.2" cy="549.1" r="4.0" fill="#222222" fill-opacity="0.374"/>
<circle cx="214.8" cy="530.3" r="4.0" fill="#222222" fill-opacity="0.374"/>
<circle cx="194.9" cy="541.7" r="4.0" fill="#1c7c78" fill-opacity="0.374"/>
<circle cx="222.0" cy="529.8" r="4.0" fill="#222222" fill-opacity="0.374"/>
<circle cx="189.7" cy="546.3" r="4.0" fill="#222222" fill-opacity="0.374"/>
<circle cx="216.7" cy="535.3" r="4.0" fill="#2e9e5b" fill-opacity="0.306"/>
<circle cx="199.7" cy="546.6" r="4.0" fill="#222222" fill-opacity="0.374"/>
<circle cx="216.9" cy="543.1" r="4.0" fill="#9fd3e8" fill-opacity="0.340"/>
<circle cx="227.1" cy="546.0" r="4.0" fill="#e0413a" fill-opacity="0.374"/>
<circle cx="196.0" cy="538.8" r="4.0" fill="#222222" fill-opacity="0.374"/>
<circle cx="223.1" cy="545.5" r="4.0" fill="#f07f22" fill-opacity="0.374"/>
<circle cx="222.5" cy="498.6" r="4.0" fill="#222222" fill-opacity="0.374"/>
<circle cx="227.0" cy="545.0" r="4.0" fill="#f07f22" fill-opacity="0.374"/>
<circle cx="228.6" cy="551.5" r="4.0" fill="#7d5a3c" fill-opacity="0.374"/>
<circle cx="210.8" cy="534.5" r="4.0" fill="#222222" fill-opacity="0.374"/>
<circle cx="232.1" cy="537.0" r="4.0" fill="#a8dc98" fill-opacity="0.306"/>
<circle cx="230.2" cy="533.8" r="4.0" fill="#7a4a9c" fill-opacity="0.374"/>
<circle cx="195.2" cy="539.5" r="4.0" fill="#7d5a3c" fill-opacity="0.374"/>
<circle cx="204.4" cy="517.7" r="4.0" fill="#222222" fill-opacity="0.374"/>
<circle cx="204.6" cy="528.3" r="4.0" fill="#e0413a" fill-opacity="0.374"/>
<circle cx="185.9" cy="536.9" r="4.0" fill="#2e9e5b" fill-opacity="0.306"/>
<circle cx="208.4" cy="537.6" r="4.0" fill="#2e9e5b" fill-opacity="0.306"/>
<circle cx="191.9" cy="528.8" r="4.0" fill="#1c7c78" fill-opacity="0.374"/>
<circle cx="227.3" cy="542.2" r="4.0" fill="#7d5a3c" fill-opacity="0.374"/>
<circle cx="202.1" cy="551.1" r="4.0" fill="#9fd3e8" fill-opacity="0.340"/>
<circle cx="205.2" cy="524.5" r="4.0" fill="#1c7c78" fill-opacity="0.374"/>
<circle cx="188.8" cy="549.7" r="4.0" fill="#fbb77a" fill-opacity="0.340"/>
<circle cx="234.4" cy="499.4" r="4.0" fill="#2e9e5b" fill-opacity="0.306"/>
<circle cx="211.9" cy="536.2" r="4.0" fill="#2e9e5b" fill-opacity="0.306"/>
<circle cx="213.1" cy="540.4" r="4.0" fill="#222222" fill-opacity="0.374"/>
<circle cx="235.0" cy="542.1" r="4.0" fill="#7a4a9c" fill-opacity="0.374"/>
<circle cx="195.0" cy="552.5" r="4.0" fill="#222222" fill-opacity="0.374"/>
<circle cx="198.5" cy="548.3" r="4.0" fill="#7d5a3c" fill-opacity="0.374"/>
<circle cx="187.2" cy="553.0" r="4.0" fill="#222222" fill-opacity="0.374"/>
<circle cx="221.3" cy="511.9" r="4.0" fill="#222222" fill-opacity="0.374"/>
<circle cx="186.6" cy="546.1" r="4.0" fill="#e0413a" fill-opacity="0.374"/>
<circle cx="215.1" cy="553.5" r="4.0" fill="#2e9e5b" fill-opacity="0.306"/>
<circle cx="221.5" cy="505.6" r="4.0" fill="#222222" fill-opacity="0.374"/>
<circle cx="230.0" cy="478.7" r="4.0" fill="#222222" fill-opacity="0.374"/>
<circle cx="188.0" cy="515.2" r="4.0" fill="#222222" fill-opacity="0.374"/>
<circle cx="210.9" cy="544.0" r="4.0" fill="#2e9e5b" fill-opacity="0.306"/>
<circle cx="200.0" cy="539.4" r="4.0" fill="#222222" fill-opacity="0.374"/>
<circle cx="206.4" cy="539.2" r="4.0" fill="#222222" fill-opacity="0.374"/>
<circle cx="215.9" cy="540.8" r="4.0" fill="#7d5a3c" fill-opacity="0.374"/>
<circle cx="193.2" cy="520.2" r="4.0" fill="#f6a9bd" fill-opacity="0.340"/>
<circle cx="223.8" cy="537.1" r="4.0" fill="#222222" fill-opacity="0.374"/>
<circle cx="227.8" cy="523.9" r="4.0" fill="#b9a3d6" fill-opacity="0.340"/>
<circle cx="205.5" cy="542.4" r="4.0" fill="#f07f22" fill-opacity="0.374"/>
<circle cx="228.5" cy="481.9" r="4.0" fill="#f6a9bd" fill-opacity="0.340"/>
<circle cx="205.9" cy="508.6" r="4.0" fill="#b9a3d6" fill-opacity="0.340"/>
<circle cx="225.3" cy="534.7" r="4.0" fill="#f07f22" fill-opacity="0.374"/>
<circle cx="198.0" cy="518.0" r="4.0" fill="#f07f22" fill-opacity="0.374"/>
<circle cx="207.9" cy="437.7" r="4.0" fill="#3a5a9a" fill-opacity="0.374"/>
<circle cx="226.7" cy="540.1" r="4.0" fill="#b9a3d6" fill-opacity="0.340"/>
<circle cx="227.3" cy="375.3" r="4.0" fill="#fbb77a" fill-opacity="0.340"/>
<circle cx="188.4" cy="538.1" r="4.0" fill="#2e9e5b" fill-opacity="0.306"/>
<circle cx="234.6" cy="533.4" r="4.0" fill="#b9a3d6" fill-opacity="0.340"/>
<circle cx="198.4" cy="533.3" r="4.0" fill="#f07f22" fill-opacity="0.374"/>
<circle cx="218.0" cy="520.7" r="4.0" fill="#f07f22" fill-opacity="0.374"/>
<circle cx="212.8" cy="541.3" r="4.0" fill="#222222" fill-opacity="0.374"/>
<circle cx="207.8" cy="544.1" r="4.0" fill="#2e9e5b" fill-opacity="0.306"/>
<circle cx="186.8" cy="528.6" r="4.0" fill="#222222" fill-opacity="0.374"/>
<circle cx="235.2" cy="544.0" r="4.0" fill="#1c7c78" fill-opacity="0.374"/>
<circle cx="233.5" cy="547.3" r="4.0" fill="#888888" fill-opacity="0.306"/>
<circle cx="227.0" cy="520.7" r="4.0" fill="#fbb77a" fill-opacity="0.340"/>
<circle cx="230.8" cy="550.4" r="4.0" fill="#222222" fill-opacity="0.374"/>
<circle cx="218.4" cy="533.9" r="4.0" fill="#7a4a9c" fill-opacity="0.374"/>
<circle cx="220.3" cy="536.6" r="4.0" fill="#7a4a9c" fill-opacity="0.374"/>
<circle cx="213.4" cy="480.6" r="4.0" fill="#9fd3e8" fill-opacity="0.340"/>
<circle cx="217.4" cy="322.5" r="4.0" fill="#a8dc98" fill-opacity="0.306"/>
<circle cx="212.2" cy="535.2" r="4.0" fill="#a8dc98" fill-opacity="0.306"/>
<circle cx="234.2" cy="532.4" r="4.0" fill="#7a4a9c" fill-opacity="0.374"/>
<circle cx="201.3" cy="555.9" r="4.0" fill="#888888" fill-opacity="0.306"/>
<circle cx="191.8" cy="549.2" r="4.0" fill="#e0413a" fill-opacity="0.374"/>
<circle cx="234.5" cy="274.7" r="4.0" fill="#f6a9bd" fill-opacity="0.340"/>
<circle cx="199.4" cy="551.2" r="4.0" fill="#a8dc98" fill-opacity="0.306"/>
<circle cx="212.9" cy="479.4" r="4.0" fill="#a8dc98" fill-opacity="0.306"/>
<circle cx="192.0" cy="531.6" r="4.0" fill="#222222" fill-opacity="0.374"/>
<circle cx="200.7" cy="541.9" r="4.0" fill="#f07f22" fill-opacity="0.374"/>
<circle cx="200.4" cy="383.4" r="4.0" fill="#a8dc98" fill-opacity="0.306"/>
<circle cx="190.2" cy="533.0" r="4.0" fill="#f6a9bd" fill-opacity="0.340"/>
<circle cx="228.5" cy="489.7" r="4.0" fill="#e0413a" fill-opacity="0.374"/>
<circle cx="214.8" cy="457.2" r="4.0" fill="#222222" fill-opacity="0.374"/>
<circle cx="196.0" cy="390.1" r="4.0" fill="#222222" fill-opacity="0.374"/>
<circle cx="209.2" cy="521.6" r="4.0" fill="#f6a9bd" fill-opacity="0.340"/>
<circle cx="217.0" cy="540.9" r="4.0" fill="#a8dc98" fill-opacity="0.306"/>
<circle cx="201.5" cy="552.2" r="4.0" fill="#7a4a9c" fill-opacity="0.374"/>
<circle cx="197.0" cy="547.3" r="4.0" fill="#2e9e5b" fill-opacity="0.306"/>
<circle cx="205.2" cy="531.1" r="4.0" fill="#e0413a" fill-opacity="0.374"/>
<circle cx="186.3" cy="555.3" r="4.0" fill="#f07f22" fill-opacity="0.374"/>
<circle cx="229.7" cy="553.7" r="4.0" fill="#7a4a9c" fill-opacity="0.374"/>
<circle cx="214.1" cy="537.2" r="4.0" fill="#2e9e5b" fill-opacity="0.306"/>
<circle cx="200.2" cy="532.2" r="4.0" fill="#3a5a9a" fill-opacity="0.374"/>
<circle cx="200.8" cy="524.1" r="4.0" fill="#1c7c78" fill-opacity="0.374"/>
<circle cx="193.8" cy="538.1" r="4.0" fill="#222222" fill-opacity="0.374"/>
<circle cx="230.1" cy="534.6" r="4.0" fill="#a8dc98" fill-opacity="0.306"/>
<circle cx="188.9" cy="535.8" r="4.0" fill="#f07f22" fill-opacity="0.374"/>
<circle cx="208.1" cy="465.4" r="4.0" fill="#7a4a9c" fill-opacity="0.374"/>
<circle cx="191.3" cy="544.9" r="4.0" fill="#7a4a9c" fill-opacity="0.374"/>
<circle cx="234.6" cy="545.7" r="4.0" fill="#1c7c78" fill-opacity="0.374"/>
<circle cx="193.6" cy="523.4" r="4.0" fill="#f07f22" fill-opacity="0.374"/>
<circle cx="203.7" cy="544.2" r="4.0" fill="#888888" fill-opacity="0.306"/>
<circle cx="217.1" cy="536.6" r="4.0" fill="#7d5a3c" fill-opacity="0.374"/>
<circle cx="227.6" cy="536.0" r="4.0" fill="#2e9e5b" fill-opacity="0.306"/>
<circle cx="223.4" cy="520.6" r="4.0" fill="#1c7c78" fill-opacity="0.374"/>
<circle cx="224.4" cy="546.3" r="4.0" fill="#a8dc98" fill-opacity="0.306"/>
<circle cx="225.7" cy="481.6" r="4.0" fill="#222222" fill-opacity="0.374"/>
<circle cx="232.3" cy="537.7" r="4.0" fill="#222222" fill-opacity="0.374"/>
<circle cx="230.1" cy="543.8" r="4.0" fill="#222222" fill-opacity="0.374"/>
<circle cx="224.7" cy="545.9" r="4.0" fill="#e0413a" fill-opacity="0.374"/>
<circle cx="211.1" cy="543.3" r="4.0" fill="#3a5a9a" fill-opacity="0.374"/>
<circle cx="214.9" cy="513.7" r="4.0" fill="#f07f22" fill-opacity="0.374"/>
<circle cx="225.7" cy="537.9" r="4.0" fill="#fbb77a" fill-opacity="0.340"/>
<circle cx="216.7" cy="507.2" r="4.0" fill="#f07f22" fill-opacity="0.374"/>
<circle cx="208.8" cy="520.3" r="4.0" fill="#a8dc98" fill-opacity="0.306"/>
<circle cx="222.6" cy="512.8" r="4.0" fill="#7a4a9c" fill-opacity="0.374"/>
<circle cx="205.6" cy="548.8" r="4.0" fill="#f6a9bd" fill-opacity="0.340"/>
<circle cx="205.3" cy="416.5" r="4.0" fill="#a8dc98" fill-opacity="0.306"/>
<circle cx="225.8" cy="519.1" r="4.0" fill="#7d5a3c" fill-opacity="0.374"/>
<circle cx="211.2" cy="472.7" r="4.0" fill="#2e9e5b" fill-opacity="0.306"/>
<circle cx="195.1" cy="532.3" r="4.0" fill="#7a4a9c" fill-opacity="0.374"/>
<circle cx="193.1" cy="511.6" r="4.0" fill="#e0413a" fill-opacity="0.374"/>
<circle cx="215.4" cy="541.2" r="4.0" fill="#222222" fill-opacity="0.374"/>
<circle cx="232.6" cy="554.9" r="4.0" fill="#7a4a9c" fill-opacity="0.374"/>
<circle cx="228.7" cy="543.1" r="4.0" fill="#7d5a3c" fill-opacity="0.374"/>
<circle cx="234.6" cy="554.6" r="4.0" fill="#222222" fill-opacity="0.374"/>
<circle cx="207.4" cy="542.4" r="4.0" fill="#b9a3d6" fill-opacity="0.340"/>
<circle cx="186.2" cy="534.1" r="4.0" fill="#222222" fill-opacity="0.374"/>
<circle cx="214.5" cy="537.4" r="4.0" fill="#2e9e5b" fill-opacity="0.306"/>
<circle cx="232.6" cy="531.8" r="4.0" fill="#1c7c78" fill-opacity="0.374"/>
<circle cx="213.2" cy="516.0" r="4.0" fill="#3a5a9a" fill-opacity="0.374"/>
<circle cx="212.1" cy="531.3" r="4.0" fill="#2e9e5b" fill-opacity="0.306"/>
<circle cx="220.6" cy="553.9" r="4.0" fill="#f07f22" fill-opacity="0.374"/>
<circle cx="203.9" cy="521.3" r="4.0" fill="#e0413a" fill-opacity="0.374"/>
<circle cx="203.6" cy="535.6" r="4.0" fill="#3a5a9a" fill-opacity="0.374"/>
<circle cx="220.2" cy="537.2" r="4.0" fill="#2e9e5b" fill-opacity="0.306"/>
<circle cx="190.7" cy="542.9" r="4.0" fill="#f07f22" fill-opacity="0.374"/>
<circle cx="206.1" cy="526.1" r="4.0" fill="#f6a9bd" fill-opacity="0.340"/>
<circle cx="215.0" cy="535.0" r="4.0" fill="#fbb77a" fill-opacity="0.340"/>
<circle cx="234.9" cy="542.7" r="4.0" fill="#2e9e5b" fill-opacity="0.306"/>
<circle cx="208.1" cy="521.5" r="4.0" fill="#e0413a" fill-opacity="0.374"/>
<circle cx="236.5" cy="552.4" r="4.0" fill="#f07f22" fill-opacity="0.374"/>
<circle cx="212.7" cy="549.6" r="4.0" fill="#7d5a3c" fill-opacity="0.374"/>
<circle cx="194.4" cy="528.4" r="4.0" fill="#7a4a9c" fill-opacity="0.374"/>
<circle cx="235.6" cy="537.6" r="4.0" fill="#7d5a3c" fill-opacity="0.374"/>
<circle cx="211.8" cy="536.1" r="4.0" fill="#222222" fill-opacity="0.374"/>
<circle cx="231.3" cy="534.4" r="4.0" fill="#9fd3e8" fill-opacity="0.340"/>
<circle cx="227.5" cy="542.2" r="4.0" fill="#3a5a9a" fill-opacity="0.374"/>
<circle cx="231.0" cy="546.8" r="4.0" fill="#f07f22" fill-opacity="0.374"/>
<circle cx="193.7" cy="485.1" r="4.0" fill="#7a4a9c" fill-opacity="0.374"/>
<circle cx="211.8" cy="536.3" r="4.0" fill="#2e9e5b" fill-opacity="0.306"/>
<circle cx="195.3" cy="550.1" r="4.0" fill="#222222" fill-opacity="0.374"/>
<circle cx="217.8" cy="539.0" r="4.0" fill="#e0413a" fill-opacity="0.374"/>
<circle cx="203.7" cy="550.3" r="4.0" fill="#3a5a9a" fill-opacity="0.374"/>
<circle cx="218.2" cy="556.0" r="4.0" fill="#222222" fill-opacity="0.374"/>
<circle cx="206.7" cy="497.8" r="4.0" fill="#7d5a3c" fill-opacity="0.374"/>
<circle cx="201.3" cy="543.8" r="4.0" fill="#9fd3e8" fill-opacity="0.340"/>
<circle cx="185.9" cy="526.7" r="4.0" fill="#7a4a9c" fill-opacity="0.374"/>
<circle cx="228.7" cy="537.0" r="4.0" fill="#e0413a" fill-opacity="0.374"/>
<circle cx="219.8" cy="534.9" r="4.0" fill="#222222" fill-opacity="0.374"/>
<circle cx="211.1" cy="534.5" r="4.0" fill="#f6a9bd" fill-opacity="0.340"/>
<circle cx="199.3" cy="493.1" r="4.0" fill="#888888" fill-opacity="0.306"/>
<circle cx="212.8" cy="553.8" r="4.0" fill="#3a5a9a" fill-opacity="0.374"/>
<circle cx="215.0" cy="522.5" r="4.0" fill="#f07f22" fill-opacity="0.374"/>
<circle cx="191.9" cy="449.0" r="4.0" fill="#a8dc98" fill-opacity="0.306"/>
<circle cx="224.4" cy="543.2" r="4.0" fill="#222222" fill-opacity="0.374"/>
<circle cx="190.8" cy="542.9" r="4.0" fill="#222222" fill-opacity="0.374"/>
<circle cx="212.3" cy="537.1" r="4.0" fill="#7d5a3c" fill-opacity="0.374"/>
<circle cx="217.0" cy="543.9" r="4.0" fill="#7d5a3c" fill-opacity="0.374"/>
<circle cx="188.9" cy="550.2" r="4.0" fill="#222222" fill-opacity="0.374"/>
<circle cx="225.0" cy="547.7" r="4.0" fill="#7a4a9c" fill-opacity="0.374"/>
<circle cx="222.2" cy="537.4" r="4.0" fill="#f07f22" fill-opacity="0.374"/>
<circle cx="194.3" cy="525.6" r="4.0" fill="#7a4a9c" fill-opacity="0.374"/>
<circle cx="190.8" cy="502.6" r="4.0" fill="#b9a3d6" fill-opacity="0.340"/>
<circle cx="215.4" cy="543.2" r="4.0" fill="#f07f22" fill-opacity="0.374"/>
<circle cx="208.6" cy="551.7" r="4.0" fill="#f07f22" fill-opacity="0.374"/>
<circle cx="188.5" cy="552.2" r="4.0" fill="#fbb77a" fill-opacity="0.340"/>
<circle cx="215.4" cy="530.6" r="4.0" fill="#3a5a9a" fill-opacity="0.374"/>
<circle cx="208.1" cy="545.4" r="4.0" fill="#e0413a" fill-opacity="0.374"/>
<circle cx="198.4" cy="554.4" r="4.0" fill="#222222" fill-opacity="0.374"/>
<circle cx="233.2" cy="542.0" r="4.0" fill="#7d5a3c" fill-opacity="0.374"/>
<circle cx="201.8" cy="552.1" r="4.0" fill="#b9a3d6" fill-opacity="0.340"/>
<circle cx="227.3" cy="533.2" r="4.0" fill="#7a4a9c" fill-opacity="0.374"/>
<circle cx="216.4" cy="545.1" r="4.0" fill="#3a5a9a" fill-opacity="0.374"/>
<circle cx="211.0" cy="551.9" r="4.0" fill="#3a5a9a" fill-opacity="0.374"/>
<circle cx="198.1" cy="530.4" r="4.0" fill="#f07f22" fill-opacity="0.374"/>
<circle cx="222.3" cy="520.5" r="4.0" fill="#222222" fill-opacity="0.374"/>
<circle cx="201.5" cy="462.0" r="4.0" fill="#9fd3e8" fill-opacity="0.340"/>
<circle cx="210.4" cy="543.1" r="4.0" fill="#7d5a3c" fill-opacity="0.374"/>
<circle cx="198.1" cy="492.0" r="4.0" fill="#222222" fill-opacity="0.374"/>
<circle cx="204.0" cy="339.0" r="4.0" fill="#a8dc98" fill-opacity="0.306"/>
<circle cx="235.2" cy="538.2" r="4.0" fill="#7a4a9c" fill-opacity="0.374"/>
<circle cx="214.3" cy="539.7" r="4.0" fill="#222222" fill-opacity="0.374"/>
<circle cx="212.9" cy="541.7" r="4.0" fill="#f07f22" fill-opacity="0.374"/>
<circle cx="206.3" cy="522.8" r="4.0" fill="#222222" fill-opacity="0.374"/>
<circle cx="192.0" cy="541.2" r="4.0" fill="#7d5a3c" fill-opacity="0.374"/>
<circle cx="203.6" cy="481.8" r="4.0" fill="#a8dc98" fill-opacity="0.306"/>
<circle cx="195.5" cy="537.5" r="4.0" fill="#7a4a9c" fill-opacity="0.374"/>
<circle cx="197.8" cy="542.5" r="4.0" fill="#222222" fill-opacity="0.374"/>
<circle cx="219.6" cy="519.7" r="4.0" fill="#f07f22" fill-opacity="0.374"/>
<circle cx="193.7" cy="542.3" r="4.0" fill="#9fd3e8" fill-opacity="0.340"/>
<circle cx="190.4" cy="551.0" r="4.0" fill="#7a4a9c" fill-opacity="0.374"/>
<circle cx="228.3" cy="518.4" r="4.0" fill="#222222" fill-opacity="0.374"/>
<circle cx="208.3" cy="538.4" r="4.0" fill="#7d5a3c" fill-opacity="0.374"/>
<circle cx="226.8" cy="555.8" r="4.0" fill="#222222" fill-opacity="0.374"/>
<circle cx="203.7" cy="542.6" r="4.0" fill="#1c7c78" fill-opacity="0.374"/>
<circle cx="204.9" cy="532.9" r="4.0" fill="#3a5a9a" fill-opacity="0.374"/>
<circle cx="196.3" cy="535.7" r="4.0" fill="#3a5a9a" fill-opacity="0.374"/>
<circle cx="211.4" cy="482.1" r="4.0" fill="#a8dc98" fill-opacity="0.306"/>
<circle cx="208.8" cy="536.8" r="4.0" fill="#222222" fill-opacity="0.374"/>
<circle cx="221.7" cy="553.7" r="4.0" fill="#7a4a9c" fill-opacity="0.374"/>
<circle cx="231.6" cy="520.1" r="4.0" fill="#e0413a" fill-opacity="0.374"/>
<circle cx="204.5" cy="541.4" r="4.0" fill="#7a4a9c" fill-opacity="0.374"/>
<circle cx="216.7" cy="535.2" r="4.0" fill="#222222" fill-opacity="0.374"/>
<circle cx="230.2" cy="529.5" r="4.0" fill="#222222" fill-opacity="0.374"/>
<circle cx="211.9" cy="541.3" r="4.0" fill="#f6a9bd" fill-opacity="0.340"/>
<circle cx="199.5" cy="540.0" r="4.0" fill="#1c7c78" fill-opacity="0.374"/>
<circle cx="205.3" cy="550.0" r="4.0" fill="#888888" fill-opacity="0.306"/>
<circle cx="214.7" cy="530.1" r="4.0" fill="#7a4a9c" fill-opacity="0.374"/>
<circle cx="205.6" cy="519.4" r="4.0" fill="#222222" fill-opacity="0.374"/>
<circle cx="194.7" cy="542.8" r="4.0" fill="#7d5a3c" fill-opacity="0.374"/>
<circle cx="202.1" cy="554.5" r="4.0" fill="#888888" fill-opacity="0.306"/>
<circle cx="191.3" cy="552.0" r="4.0" fill="#f6a9bd" fill-opacity="0.340"/>
<circle cx="204.1" cy="537.7" r="4.0" fill="#2e9e5b" fill-opacity="0.306"/>
<circle cx="200.8" cy="531.2" r="4.0" fill="#222222" fill-opacity="0.374"/>
<circle cx="201.6" cy="554.0" r="4.0" fill="#7a4a9c" fill-opacity="0.374"/>
<circle cx="192.1" cy="540.5" r="4.0" fill="#1c7c78" fill-opacity="0.374"/>
<circle cx="200.1" cy="503.6" r="4.0" fill="#f07f22" fill-opacity="0.374"/>
<circle cx="232.1" cy="541.1" r="4.0" fill="#1c7c78" fill-opacity="0.374"/>
<circle cx="230.7" cy="513.0" r="4.0" fill="#7d5a3c" fill-opacity="0.374"/>
<circle cx="192.4" cy="521.0" r="4.0" fill="#7a4a9c" fill-opacity="0.374"/>
<circle cx="187.2" cy="540.7" r="4.0" fill="#9fd3e8" fill-opacity="0.340"/>
<circle cx="219.5" cy="537.3" r="4.0" fill="#f07f22" fill-opacity="0.374"/>
<circle cx="206.7" cy="539.0" r="4.0" fill="#888888" fill-opacity="0.306"/>
<circle cx="221.4" cy="523.7" r="4.0" fill="#7a4a9c" fill-opacity="0.374"/>
<circle cx="228.9" cy="538.0" r="4.0" fill="#f07f22" fill-opacity="0.374"/>
<circle cx="217.8" cy="508.2" r="4.0" fill="#222222" fill-opacity="0.374"/>
<circle cx="191.6" cy="555.5" r="4.0" fill="#b9a3d6" fill-opacity="0.340"/>
<circle cx="223.1" cy="382.3" r="4.0" fill="#222222" fill-opacity="0.374"/>
<circle cx="187.8" cy="471.3" r="4.0" fill="#a8dc98" fill-opacity="0.306"/>
<circle cx="194.0" cy="541.5" r="4.0" fill="#222222" fill-opacity="0.374"/>
<circle cx="201.2" cy="539.8" r="4.0" fill="#f07f22" fill-opacity="0.374"/>
<circle cx="187.7" cy="533.7" r="4.0" fill="#7a4a9c" fill-opacity="0.374"/>
<circle cx="218.3" cy="542.9" r="4.0" fill="#222222" fill-opacity="0.374"/>
<circle cx="228.5" cy="482.2" r="4.0" fill="#f6a9bd" fill-opacity="0.340"/>
<circle cx="222.2" cy="513.2" r="4.0" fill="#7a4a9c" fill-opacity="0.374"/>
<circle cx="207.9" cy="538.0" r="4.0" fill="#9fd3e8" fill-opacity="0.340"/>
<circle cx="203.5" cy="550.8" r="4.0" fill="#222222" fill-opacity="0.374"/>
<circle cx="228.2" cy="548.7" r="4.0" fill="#1c7c78" fill-opacity="0.374"/>
<circle cx="200.3" cy="547.7" r="4.0" fill="#222222" fill-opacity="0.374"/>
<circle cx="229.3" cy="527.6" r="4.0" fill="#e0413a" fill-opacity="0.374"/>
<circle cx="188.1" cy="512.4" r="4.0" fill="#7a4a9c" fill-opacity="0.374"/>
<circle cx="191.4" cy="540.3" r="4.0" fill="#7d5a3c" fill-opacity="0.374"/>
<circle cx="196.4" cy="546.5" r="4.0" fill="#b9a3d6" fill-opacity="0.340"/>
<circle cx="223.9" cy="537.8" r="4.0" fill="#222222" fill-opacity="0.374"/>
<circle cx="221.1" cy="553.4" r="4.0" fill="#f07f22" fill-opacity="0.374"/>
<circle cx="223.8" cy="489.2" r="4.0" fill="#7d5a3c" fill-opacity="0.374"/>
<circle cx="200.0" cy="541.1" r="4.0" fill="#222222" fill-opacity="0.374"/>
<circle cx="234.0" cy="546.7" r="4.0" fill="#f07f22" fill-opacity="0.374"/>
<circle cx="233.1" cy="556.1" r="4.0" fill="#9fd3e8" fill-opacity="0.340"/>
<circle cx="223.4" cy="553.2" r="4.0" fill="#7d5a3c" fill-opacity="0.374"/>
<circle cx="217.7" cy="501.6" r="4.0" fill="#a8dc98" fill-opacity="0.306"/>
<circle cx="188.5" cy="549.7" r="4.0" fill="#9fd3e8" fill-opacity="0.340"/>
<circle cx="207.5" cy="524.4" r="4.0" fill="#2e9e5b" fill-opacity="0.306"/>
<circle cx="233.0" cy="287.2" r="4.0" fill="#a8dc98" fill-opacity="0.306"/>
<circle cx="224.6" cy="514.1" r="4.0" fill="#222222" fill-opacity="0.374"/>
<circle cx="221.5" cy="544.7" r="4.0" fill="#7d5a3c" fill-opacity="0.374"/>
<circle cx="199.0" cy="544.4" r="4.0" fill="#f6a9bd" fill-opacity="0.340"/>
<circle cx="235.1" cy="541.5" r="4.0" fill="#888888" fill-opacity="0.306"/>
<circle cx="213.4" cy="547.9" r="4.0" fill="#7a4a9c" fill-opacity="0.374"/>
<circle cx="188.7" cy="540.4" r="4.0" fill="#f07f22" fill-opacity="0.374"/>
<circle cx="329.5" cy="530.9" r="4.0" fill="#e0413a" fill-opacity="0.374"/>
<circle cx="343.2" cy="547.0" r="4.0" fill="#fbb77a" fill-opacity="0.340"/>
<circle cx="302.7" cy="527.7" r="4.0" fill="#a8dc98" fill-opacity="0.306"/>
<circle cx="309.7" cy="413.5" r="4.0" fill="#f6a9bd" fill-opacity="0.340"/>
<circle cx="346.5" cy="544.7" r="4.0" fill="#7a4a9c" fill-opacity="0.374"/>
<circle cx="303.8" cy="546.5" r="4.0" fill="#9fd3e8" fill-opacity="0.340"/>
<circle cx="343.7" cy="358.1" r="4.0" fill="#f07f22" fill-opacity="0.374"/>
<circle cx="322.0" cy="396.1" r="4.0" fill="#f6a9bd" fill-opacity="0.340"/>
<circle cx="310.1" cy="551.3" r="4.0" fill="#7a4a9c" fill-opacity="0.374"/>
<circle cx="322.1" cy="519.0" r="4.0" fill="#1c7c78" fill-opacity="0.374"/>
<circle cx="333.2" cy="533.6" r="4.0" fill="#222222" fill-opacity="0.374"/>
<circle cx="318.8" cy="324.4" r="4.0" fill="#9fd3e8" fill-opacity="0.340"/>
<circle cx="347.6" cy="540.4" r="4.0" fill="#888888" fill-opacity="0.306"/>
<circle cx="304.2" cy="537.2" r="4.0" fill="#9fd3e8" fill-opacity="0.340"/>
<circle cx="320.4" cy="448.8" r="4.0" fill="#a8dc98" fill-opacity="0.306"/>
<circle cx="331.4" cy="508.5" r="4.0" fill="#a8dc98" fill-opacity="0.306"/>
<circle cx="320.0" cy="540.1" r="4.0" fill="#222222" fill-opacity="0.374"/>
<circle cx="331.5" cy="526.1" r="4.0" fill="#a8dc98" fill-opacity="0.306"/>
<circle cx="303.0" cy="525.1" r="4.0" fill="#f6a9bd" fill-opacity="0.340"/>
<circle cx="352.3" cy="534.1" r="4.0" fill="#222222" fill-opacity="0.374"/>
<circle cx="309.4" cy="535.9" r="4.0" fill="#e0413a" fill-opacity="0.374"/>
<circle cx="315.9" cy="346.9" r="4.0" fill="#9fd3e8" fill-opacity="0.340"/>
<circle cx="327.5" cy="539.5" r="4.0" fill="#a8dc98" fill-opacity="0.306"/>
<circle cx="331.0" cy="552.4" r="4.0" fill="#f07f22" fill-opacity="0.374"/>
<circle cx="350.8" cy="526.5" r="4.0" fill="#7d5a3c" fill-opacity="0.374"/>
<circle cx="303.7" cy="495.9" r="4.0" fill="#f07f22" fill-opacity="0.374"/>
<circle cx="341.3" cy="486.8" r="4.0" fill="#1c7c78" fill-opacity="0.374"/>
<circle cx="341.5" cy="529.1" r="4.0" fill="#888888" fill-opacity="0.306"/>
<circle cx="334.4" cy="516.0" r="4.0" fill="#a8dc98" fill-opacity="0.306"/>
<circle cx="316.4" cy="524.8" r="4.0" fill="#7a4a9c" fill-opacity="0.374"/>
<circle cx="346.5" cy="551.8" r="4.0" fill="#fbb77a" fill-opacity="0.340"/>
<circle cx="336.7" cy="542.1" r="4.0" fill="#a8dc98" fill-opacity="0.306"/>
<circle cx="340.9" cy="502.4" r="4.0" fill="#2e9e5b" fill-opacity="0.306"/>
<circle cx="328.0" cy="543.1" r="4.0" fill="#888888" fill-opacity="0.306"/>
<circle cx="319.9" cy="535.2" r="4.0" fill="#f07f22" fill-opacity="0.374"/>
<circle cx="322.7" cy="477.9" r="4.0" fill="#222222" fill-opacity="0.374"/>
<circle cx="319.2" cy="498.7" r="4.0" fill="#a8dc98" fill-opacity="0.306"/>
<circle cx="352.4" cy="539.2" r="4.0" fill="#f6a9bd" fill-opacity="0.340"/>
<circle cx="320.7" cy="548.0" r="4.0" fill="#9fd3e8" fill-opacity="0.340"/>
<circle cx="314.0" cy="531.8" r="4.0" fill="#a8dc98" fill-opacity="0.306"/>
<circle cx="308.9" cy="547.7" r="4.0" fill="#222222" fill-opacity="0.374"/>
<circle cx="346.4" cy="532.8" r="4.0" fill="#f6a9bd" fill-opacity="0.340"/>
<circle cx="324.7" cy="528.7" r="4.0" fill="#f07f22" fill-opacity="0.374"/>
<circle cx="317.4" cy="483.1" r="4.0" fill="#9fd3e8" fill-opacity="0.340"/>
<circle cx="305.4" cy="512.1" r="4.0" fill="#a8dc98" fill-opacity="0.306"/>
<circle cx="317.7" cy="545.8" r="4.0" fill="#e0413a" fill-opacity="0.374"/>
<circle cx="330.1" cy="538.1" r="4.0" fill="#fbb77a" fill-opacity="0.340"/>
<circle cx="319.4" cy="534.9" r="4.0" fill="#fbb77a" fill-opacity="0.340"/>
<circle cx="331.8" cy="541.6" r="4.0" fill="#222222" fill-opacity="0.374"/>
<circle cx="311.1" cy="492.1" r="4.0" fill="#f07f22" fill-opacity="0.374"/>
<circle cx="352.4" cy="540.7" r="4.0" fill="#a8dc98" fill-opacity="0.306"/>
<circle cx="341.5" cy="551.0" r="4.0" fill="#f6a9bd" fill-opacity="0.340"/>
<circle cx="346.3" cy="544.3" r="4.0" fill="#222222" fill-opacity="0.374"/>
<circle cx="326.7" cy="550.1" r="4.0" fill="#fbb77a" fill-opacity="0.340"/>
<circle cx="316.1" cy="538.5" r="4.0" fill="#a8dc98" fill-opacity="0.306"/>
<circle cx="303.2" cy="495.4" r="4.0" fill="#9fd3e8" fill-opacity="0.340"/>
<circle cx="315.7" cy="546.7" r="4.0" fill="#e0413a" fill-opacity="0.374"/>
<circle cx="313.1" cy="504.0" r="4.0" fill="#f6a9bd" fill-opacity="0.340"/>
<circle cx="312.2" cy="527.2" r="4.0" fill="#888888" fill-opacity="0.306"/>
<circle cx="346.1" cy="541.0" r="4.0" fill="#888888" fill-opacity="0.306"/>
<circle cx="312.0" cy="539.1" r="4.0" fill="#2e9e5b" fill-opacity="0.306"/>
<circle cx="351.1" cy="552.7" r="4.0" fill="#888888" fill-opacity="0.306"/>
<circle cx="306.0" cy="552.1" r="4.0" fill="#7a4a9c" fill-opacity="0.374"/>
<circle cx="346.7" cy="529.9" r="4.0" fill="#a8dc98" fill-opacity="0.306"/>
<circle cx="309.0" cy="550.8" r="4.0" fill="#9fd3e8" fill-opacity="0.340"/>
<circle cx="329.4" cy="468.6" r="4.0" fill="#2e9e5b" fill-opacity="0.306"/>
<circle cx="334.6" cy="536.6" r="4.0" fill="#fbb77a" fill-opacity="0.340"/>
<circle cx="312.8" cy="372.1" r="4.0" fill="#a8dc98" fill-opacity="0.306"/>
<circle cx="340.2" cy="537.9" r="4.0" fill="#888888" fill-opacity="0.306"/>
<circle cx="322.7" cy="523.1" r="4.0" fill="#e0413a" fill-opacity="0.374"/>
<circle cx="319.2" cy="549.3" r="4.0" fill="#222222" fill-opacity="0.374"/>
<circle cx="323.1" cy="533.2" r="4.0" fill="#222222" fill-opacity="0.374"/>
<circle cx="333.9" cy="500.0" r="4.0" fill="#a8dc98" fill-opacity="0.306"/>
<circle cx="327.2" cy="455.9" r="4.0" fill="#f07f22" fill-opacity="0.374"/>
<circle cx="315.1" cy="419.5" r="4.0" fill="#a8dc98" fill-opacity="0.306"/>
<circle cx="302.7" cy="509.2" r="4.0" fill="#fbb77a" fill-opacity="0.340"/>
<circle cx="330.8" cy="475.3" r="4.0" fill="#fbb77a" fill-opacity="0.340"/>
<circle cx="304.9" cy="506.6" r="4.0" fill="#888888" fill-opacity="0.306"/>
<circle cx="338.9" cy="548.5" r="4.0" fill="#a8dc98" fill-opacity="0.306"/>
<circle cx="306.8" cy="461.2" r="4.0" fill="#9fd3e8" fill-opacity="0.340"/>
<circle cx="309.3" cy="513.8" r="4.0" fill="#2e9e5b" fill-opacity="0.306"/>
<circle cx="306.6" cy="493.6" r="4.0" fill="#7a4a9c" fill-opacity="0.374"/>
<circle cx="323.6" cy="504.1" r="4.0" fill="#f07f22" fill-opacity="0.374"/>
<circle cx="332.0" cy="531.4" r="4.0" fill="#f07f22" fill-opacity="0.374"/>
<circle cx="335.5" cy="547.3" r="4.0" fill="#888888" fill-opacity="0.306"/>
<circle cx="318.9" cy="297.6" r="4.0" fill="#888888" fill-opacity="0.306"/>
<circle cx="315.1" cy="549.9" r="4.0" fill="#e0413a" fill-opacity="0.374"/>
<circle cx="340.9" cy="521.1" r="4.0" fill="#2e9e5b" fill-opacity="0.306"/>
<circle cx="317.8" cy="536.1" r="4.0" fill="#2e9e5b" fill-opacity="0.306"/>
<circle cx="351.8" cy="549.4" r="4.0" fill="#f6a9bd" fill-opacity="0.340"/>
<circle cx="316.2" cy="471.1" r="4.0" fill="#f6a9bd" fill-opacity="0.340"/>
<circle cx="350.0" cy="528.4" r="4.0" fill="#222222" fill-opacity="0.374"/>
<circle cx="302.5" cy="531.2" r="4.0" fill="#f6a9bd" fill-opacity="0.340"/>
<circle cx="335.4" cy="485.0" r="4.0" fill="#2e9e5b" fill-opacity="0.306"/>
<circle cx="320.5" cy="517.8" r="4.0" fill="#7d5a3c" fill-opacity="0.374"/>
<circle cx="313.6" cy="528.8" r="4.0" fill="#2e9e5b" fill-opacity="0.306"/>
<circle cx="306.6" cy="529.4" r="4.0" fill="#222222" fill-opacity="0.374"/>
<circle cx="308.8" cy="491.5" r="4.0" fill="#222222" fill-opacity="0.374"/>
<circle cx="327.6" cy="533.8" r="4.0" fill="#f07f22" fill-opacity="0.374"/>
<circle cx="311.3" cy="488.4" r="4.0" fill="#fbb77a" fill-opacity="0.340"/>
<circle cx="320.6" cy="482.6" r="4.0" fill="#9fd3e8" fill-opacity="0.340"/>
<circle cx="311.0" cy="532.5" r="4.0" fill="#2e9e5b" fill-opacity="0.306"/>
<circle cx="349.0" cy="517.2" r="4.0" fill="#9fd3e8" fill-opacity="0.340"/>
<circle cx="303.5" cy="493.3" r="4.0" fill="#2e9e5b" fill-opacity="0.306"/>
<circle cx="314.4" cy="522.1" r="4.0" fill="#7d5a3c" fill-opacity="0.374"/>
<circle cx="327.4" cy="464.8" r="4.0" fill="#f07f22" fill-opacity="0.374"/>
<circle cx="319.6" cy="545.1" r="4.0" fill="#7a4a9c" fill-opacity="0.374"/>
<circle cx="325.5" cy="549.0" r="4.0" fill="#a8dc98" fill-opacity="0.306"/>
<circle cx="348.1" cy="524.3" r="4.0" fill="#222222" fill-opacity="0.374"/>
<circle cx="339.4" cy="542.8" r="4.0" fill="#222222" fill-opacity="0.374"/>
<circle cx="334.9" cy="493.8" r="4.0" fill="#f6a9bd" fill-opacity="0.340"/>
<circle cx="346.1" cy="492.9" r="4.0" fill="#222222" fill-opacity="0.374"/>
<circle cx="330.8" cy="544.0" r="4.0" fill="#f6a9bd" fill-opacity="0.340"/>
<circle cx="348.9" cy="480.4" r="4.0" fill="#fbb77a" fill-opacity="0.340"/>
<circle cx="334.0" cy="452.5" r="4.0" fill="#9fd3e8" fill-opacity="0.340"/>
<circle cx="314.8" cy="529.3" r="4.0" fill="#a8dc98" fill-opacity="0.306"/>
<circle cx="324.1" cy="544.8" r="4.0" fill="#9fd3e8" fill-opacity="0.340"/>
<circle cx="312.4" cy="490.7" r="4.0" fill="#2e9e5b" fill-opacity="0.306"/>
<circle cx="334.8" cy="545.5" r="4.0" fill="#a8dc98" fill-opacity="0.306"/>
<circle cx="352.7" cy="543.7" r="4.0" fill="#9fd3e8" fill-opacity="0.340"/>
<circle cx="331.0" cy="548.4" r="4.0" fill="#9fd3e8" fill-opacity="0.340"/>
<circle cx="346.0" cy="542.3" r="4.0" fill="#1c7c78" fill-opacity="0.374"/>
<circle cx="315.6" cy="536.8" r="4.0" fill="#2e9e5b" fill-opacity="0.306"/>
<circle cx="344.0" cy="408.1" r="4.0" fill="#a8dc98" fill-opacity="0.306"/>
<circle cx="318.9" cy="529.0" r="4.0" fill="#f07f22" fill-opacity="0.374"/>
<circle cx="347.4" cy="543.5" r="4.0" fill="#9fd3e8" fill-opacity="0.340"/>
<circle cx="336.8" cy="530.3" r="4.0" fill="#888888" fill-opacity="0.306"/>
<circle cx="325.1" cy="515.3" r="4.0" fill="#f07f22" fill-opacity="0.374"/>
<circle cx="347.0" cy="493.9" r="4.0" fill="#9fd3e8" fill-opacity="0.340"/>
<circle cx="347.1" cy="511.5" r="4.0" fill="#a8dc98" fill-opacity="0.306"/>
<circle cx="341.8" cy="541.2" r="4.0" fill="#1c7c78" fill-opacity="0.374"/>
<circle cx="311.3" cy="546.1" r="4.0" fill="#1c7c78" fill-opacity="0.374"/>
<circle cx="352.7" cy="489.7" r="4.0" fill="#a8dc98" fill-opacity="0.306"/>
<circle cx="303.2" cy="534.6" r="4.0" fill="#222222" fill-opacity="0.374"/>
<circle cx="351.7" cy="537.7" r="4.0" fill="#222222" fill-opacity="0.374"/>
<circle cx="348.5" cy="550.5" r="4.0" fill="#9fd3e8" fill-opacity="0.340"/>
<circle cx="339.5" cy="393.3" r="4.0" fill="#222222" fill-opacity="0.374"/>
<circle cx="310.6" cy="520.2" r="4.0" fill="#e0413a" fill-opacity="0.374"/>
<circle cx="306.6" cy="527.9" r="4.0" fill="#a8dc98" fill-opacity="0.306"/>
<circle cx="348.8" cy="541.9" r="4.0" fill="#e0413a" fill-opacity="0.374"/>
<circle cx="347.0" cy="473.3" r="4.0" fill="#fbb77a" fill-opacity="0.340"/>
<circle cx="419.9" cy="493.9" r="4.0" fill="#3a5a9a" fill-opacity="0.374"/>
<circle cx="425.9" cy="540.7" r="4.0" fill="#f5c000" fill-opacity="0.408"/>
<circle cx="426.8" cy="512.2" r="4.0" fill="#3a5a9a" fill-opacity="0.374"/>
<circle cx="457.6" cy="528.2" r="4.0" fill="#2e9e5b" fill-opacity="0.306"/>
<circle cx="465.5" cy="347.9" r="4.0" fill="#e0413a" fill-opacity="0.374"/>
<circle cx="454.4" cy="301.1" r="4.0" fill="#a8dc98" fill-opacity="0.306"/>
<circle cx="418.4" cy="484.6" r="4.0" fill="#f6a9bd" fill-opacity="0.340"/>
<circle cx="420.2" cy="516.8" r="4.0" fill="#fbb77a" fill-opacity="0.340"/>
<circle cx="435.1" cy="485.9" r="4.0" fill="#f5c000" fill-opacity="0.408"/>
<circle cx="449.1" cy="504.5" r="4.0" fill="#f5c000" fill-opacity="0.408"/>
<circle cx="462.5" cy="391.0" r="4.0" fill="#a8dc98" fill-opacity="0.306"/>
<circle cx="436.9" cy="349.8" r="4.0" fill="#f6a9bd" fill-opacity="0.340"/>
<circle cx="451.5" cy="498.3" r="4.0" fill="#888888" fill-opacity="0.306"/>
<circle cx="448.0" cy="508.6" r="4.0" fill="#222222" fill-opacity="0.374"/>
<circle cx="443.4" cy="433.0" r="4.0" fill="#fbb77a" fill-opacity="0.340"/>
<circle cx="443.6" cy="317.9" r="4.0" fill="#2e9e5b" fill-opacity="0.306"/>
<circle cx="453.7" cy="464.8" r="4.0" fill="#2e9e5b" fill-opacity="0.306"/>
<circle cx="421.0" cy="504.2" r="4.0" fill="#f07f22" fill-opacity="0.374"/>
<circle cx="458.5" cy="396.5" r="4.0" fill="#e0413a" fill-opacity="0.374"/>
<circle cx="426.7" cy="514.4" r="4.0" fill="#f07f22" fill-opacity="0.374"/>
<circle cx="450.9" cy="364.1" r="4.0" fill="#f5c000" fill-opacity="0.408"/>
<circle cx="444.5" cy="343.9" r="4.0" fill="#fbb77a" fill-opacity="0.340"/>
<circle cx="448.6" cy="492.8" r="4.0" fill="#2e9e5b" fill-opacity="0.306"/>
<circle cx="450.6" cy="428.7" r="4.0" fill="#a8dc98" fill-opacity="0.306"/>
<circle cx="458.2" cy="505.6" r="4.0" fill="#222222" fill-opacity="0.374"/>
<circle cx="456.6" cy="536.3" r="4.0" fill="#f6a9bd" fill-opacity="0.340"/>
<circle cx="430.5" cy="413.8" r="4.0" fill="#3a5a9a" fill-opacity="0.374"/>
<circle cx="446.9" cy="525.8" r="4.0" fill="#f6a9bd" fill-opacity="0.340"/>
<circle cx="447.6" cy="357.3" r="4.0" fill="#f5c000" fill-opacity="0.408"/>
<circle cx="463.7" cy="314.6" r="4.0" fill="#a8dc98" fill-opacity="0.306"/>
<circle cx="452.1" cy="547.5" r="4.0" fill="#a8dc98" fill-opacity="0.306"/>
<circle cx="450.3" cy="509.2" r="4.0" fill="#3a5a9a" fill-opacity="0.374"/>
<circle cx="435.8" cy="519.2" r="4.0" fill="#a8dc98" fill-opacity="0.306"/>
<circle cx="466.7" cy="289.3" r="4.0" fill="#a8dc98" fill-opacity="0.306"/>
<circle cx="452.6" cy="208.7" r="4.0" fill="#fbb77a" fill-opacity="0.340"/>
<circle cx="452.1" cy="515.9" r="4.0" fill="#f6a9bd" fill-opacity="0.340"/>
<circle cx="440.1" cy="535.9" r="4.0" fill="#2e9e5b" fill-opacity="0.306"/>
<circle cx="433.6" cy="548.2" r="4.0" fill="#f5c000" fill-opacity="0.408"/>
<circle cx="466.8" cy="382.3" r="4.0" fill="#222222" fill-opacity="0.374"/>
<circle cx="442.5" cy="509.9" r="4.0" fill="#f07f22" fill-opacity="0.374"/>
<circle cx="433.6" cy="395.8" r="4.0" fill="#a8dc98" fill-opacity="0.306"/>
<circle cx="446.1" cy="405.5" r="4.0" fill="#a8dc98" fill-opacity="0.306"/>
<circle cx="438.4" cy="489.3" r="4.0" fill="#f07f22" fill-opacity="0.374"/>
<circle cx="420.0" cy="439.0" r="4.0" fill="#f6a9bd" fill-opacity="0.340"/>
<circle cx="468.9" cy="275.6" r="4.0" fill="#a8dc98" fill-opacity="0.306"/>
<circle cx="463.7" cy="331.8" r="4.0" fill="#f6a9bd" fill-opacity="0.340"/>
<circle cx="445.7" cy="509.3" r="4.0" fill="#f5c000" fill-opacity="0.408"/>
<circle cx="429.3" cy="547.0" r="4.0" fill="#fbb77a" fill-opacity="0.340"/>
<circle cx="437.5" cy="506.0" r="4.0" fill="#f6a9bd" fill-opacity="0.340"/>
<circle cx="438.2" cy="512.5" r="4.0" fill="#f5c000" fill-opacity="0.408"/>
<circle cx="426.0" cy="545.8" r="4.0" fill="#2e9e5b" fill-opacity="0.306"/>
<circle cx="436.2" cy="522.6" r="4.0" fill="#f07f22" fill-opacity="0.374"/>
<circle cx="463.3" cy="481.1" r="4.0" fill="#888888" fill-opacity="0.306"/>
<circle cx="434.0" cy="507.4" r="4.0" fill="#f5c000" fill-opacity="0.408"/>
<circle cx="463.0" cy="398.6" r="4.0" fill="#fbb77a" fill-opacity="0.340"/>
<circle cx="449.2" cy="494.9" r="4.0" fill="#f6a9bd" fill-opacity="0.340"/>
<circle cx="467.7" cy="503.0" r="4.0" fill="#f07f22" fill-opacity="0.374"/>
<circle cx="418.8" cy="402.6" r="4.0" fill="#7d5a3c" fill-opacity="0.374"/>
<circle cx="423.6" cy="490.7" r="4.0" fill="#f5c000" fill-opacity="0.408"/>
<circle cx="447.1" cy="326.9" r="4.0" fill="#e0413a" fill-opacity="0.374"/>
<circle cx="455.9" cy="478.5" r="4.0" fill="#2e9e5b" fill-opacity="0.306"/>
<circle cx="468.5" cy="514.0" r="4.0" fill="#3a5a9a" fill-opacity="0.374"/>
<circle cx="456.7" cy="520.0" r="4.0" fill="#fbb77a" fill-opacity="0.340"/>
<circle cx="425.2" cy="511.2" r="4.0" fill="#3a5a9a" fill-opacity="0.374"/>
<circle cx="431.2" cy="533.6" r="4.0" fill="#a8dc98" fill-opacity="0.306"/>
<circle cx="444.5" cy="518.4" r="4.0" fill="#a8dc98" fill-opacity="0.306"/>
<circle cx="431.9" cy="507.0" r="4.0" fill="#f5c000" fill-opacity="0.408"/>
<circle cx="433.9" cy="503.1" r="4.0" fill="#3a5a9a" fill-opacity="0.374"/>
<circle cx="453.3" cy="469.3" r="4.0" fill="#f5c000" fill-opacity="0.408"/>
<circle cx="459.5" cy="393.7" r="4.0" fill="#a8dc98" fill-opacity="0.306"/>
<circle cx="451.7" cy="529.1" r="4.0" fill="#f5c000" fill-opacity="0.408"/>
<circle cx="453.6" cy="541.6" r="4.0" fill="#2e9e5b" fill-opacity="0.306"/>
<circle cx="462.9" cy="495.8" r="4.0" fill="#f6a9bd" fill-opacity="0.340"/>
<circle cx="424.4" cy="516.6" r="4.0" fill="#f07f22" fill-opacity="0.374"/>
<circle cx="434.2" cy="395.4" r="4.0" fill="#f6a9bd" fill-opacity="0.340"/>
<circle cx="426.1" cy="500.4" r="4.0" fill="#fbb77a" fill-opacity="0.340"/>
<circle cx="441.7" cy="499.2" r="4.0" fill="#888888" fill-opacity="0.306"/>
<circle cx="442.9" cy="499.8" r="4.0" fill="#f5c000" fill-opacity="0.408"/>
<circle cx="466.1" cy="534.3" r="4.0" fill="#2e9e5b" fill-opacity="0.306"/>
<circle cx="427.9" cy="542.6" r="4.0" fill="#222222" fill-opacity="0.374"/>
<circle cx="444.2" cy="234.1" r="4.0" fill="#f07f22" fill-opacity="0.374"/>
<circle cx="427.2" cy="533.1" r="4.0" fill="#f5c000" fill-opacity="0.408"/>
<circle cx="468.4" cy="539.7" r="4.0" fill="#fbb77a" fill-opacity="0.340"/>
<circle cx="430.6" cy="487.5" r="4.0" fill="#3a5a9a" fill-opacity="0.374"/>
<circle cx="419.6" cy="519.8" r="4.0" fill="#f5c000" fill-opacity="0.408"/>
<circle cx="439.1" cy="252.2" r="4.0" fill="#a8dc98" fill-opacity="0.306"/>
<circle cx="466.8" cy="498.0" r="4.0" fill="#2e9e5b" fill-opacity="0.306"/>
<circle cx="443.4" cy="528.6" r="4.0" fill="#1c7c78" fill-opacity="0.374"/>
<circle cx="436.7" cy="543.4" r="4.0" fill="#222222" fill-opacity="0.374"/>
<circle cx="434.8" cy="510.5" r="4.0" fill="#222222" fill-opacity="0.374"/>
<circle cx="443.6" cy="538.6" r="4.0" fill="#2e9e5b" fill-opacity="0.306"/>
<circle cx="445.5" cy="526.6" r="4.0" fill="#222222" fill-opacity="0.374"/>
<circle cx="428.5" cy="387.8" r="4.0" fill="#fbb77a" fill-opacity="0.340"/>
<circle cx="421.4" cy="500.8" r="4.0" fill="#f5c000" fill-opacity="0.408"/>
<circle cx="444.8" cy="501.0" r="4.0" fill="#2e9e5b" fill-opacity="0.306"/>
<circle cx="464.6" cy="456.3" r="4.0" fill="#3a5a9a" fill-opacity="0.374"/>
<circle cx="467.8" cy="462.0" r="4.0" fill="#fbb77a" fill-opacity="0.340"/>
<circle cx="436.7" cy="501.2" r="4.0" fill="#2e9e5b" fill-opacity="0.306"/>
<circle cx="432.2" cy="515.6" r="4.0" fill="#f6a9bd" fill-opacity="0.340"/>
<circle cx="442.5" cy="472.9" r="4.0" fill="#3a5a9a" fill-opacity="0.374"/>
<circle cx="465.6" cy="541.0" r="4.0" fill="#a8dc98" fill-opacity="0.306"/>
<circle cx="453.1" cy="477.2" r="4.0" fill="#f6a9bd" fill-opacity="0.340"/>
<circle cx="434.6" cy="513.4" r="4.0" fill="#3a5a9a" fill-opacity="0.374"/>
<circle cx="442.4" cy="355.3" r="4.0" fill="#a8dc98" fill-opacity="0.306"/>
<circle cx="465.5" cy="452.6" r="4.0" fill="#3a5a9a" fill-opacity="0.374"/>
<circle cx="443.9" cy="436.6" r="4.0" fill="#f6a9bd" fill-opacity="0.340"/>
<circle cx="426.5" cy="383.7" r="4.0" fill="#222222" fill-opacity="0.374"/>
<circle cx="420.5" cy="546.2" r="4.0" fill="#2e9e5b" fill-opacity="0.306"/>
<circle cx="445.6" cy="506.4" r="4.0" fill="#2e9e5b" fill-opacity="0.306"/>
<circle cx="461.6" cy="483.0" r="4.0" fill="#f07f22" fill-opacity="0.374"/>
<circle cx="422.2" cy="421.4" r="4.0" fill="#f6a9bd" fill-opacity="0.340"/>
<circle cx="454.9" cy="451.1" r="4.0" fill="#f6a9bd" fill-opacity="0.340"/>
<circle cx="459.7" cy="492.3" r="4.0" fill="#f6a9bd" fill-opacity="0.340"/>
<circle cx="424.5" cy="539.0" r="4.0" fill="#a8dc98" fill-opacity="0.306"/>
<circle cx="418.9" cy="501.8" r="4.0" fill="#fbb77a" fill-opacity="0.340"/>
<circle cx="453.9" cy="392.6" r="4.0" fill="#2e9e5b" fill-opacity="0.306"/>
<circle cx="449.0" cy="269.3" r="4.0" fill="#f6a9bd" fill-opacity="0.340"/>
<circle cx="468.3" cy="510.3" r="4.0" fill="#f6a9bd" fill-opacity="0.340"/>
<circle cx="463.0" cy="499.1" r="4.0" fill="#f5c000" fill-opacity="0.408"/>
<circle cx="449.0" cy="496.4" r="4.0" fill="#222222" fill-opacity="0.374"/>
<circle cx="460.9" cy="489.0" r="4.0" fill="#3a5a9a" fill-opacity="0.374"/>
<circle cx="465.7" cy="281.1" r="4.0" fill="#a8dc98" fill-opacity="0.306"/>
<circle cx="427.3" cy="497.2" r="4.0" fill="#3a5a9a" fill-opacity="0.374"/>
<circle cx="456.2" cy="508.2" r="4.0" fill="#f5c000" fill-opacity="0.408"/>
<circle cx="438.9" cy="444.1" r="4.0" fill="#7d5a3c" fill-opacity="0.374"/>
<circle cx="458.6" cy="377.6" r="4.0" fill="#7d5a3c" fill-opacity="0.374"/>
<circle cx="438.7" cy="399.5" r="4.0" fill="#f6a9bd" fill-opacity="0.340"/>
<circle cx="435.5" cy="535.1" r="4.0" fill="#f6a9bd" fill-opacity="0.340"/>
<circle cx="454.6" cy="527.2" r="4.0" fill="#2e9e5b" fill-opacity="0.306"/>
<circle cx="455.8" cy="510.7" r="4.0" fill="#f07f22" fill-opacity="0.374"/>
<circle cx="465.6" cy="291.1" r="4.0" fill="#2e9e5b" fill-opacity="0.306"/>
<circle cx="429.2" cy="258.4" r="4.0" fill="#e0413a" fill-opacity="0.374"/>
<circle cx="465.5" cy="502.7" r="4.0" fill="#f5c000" fill-opacity="0.408"/>
<circle cx="418.5" cy="504.8" r="4.0" fill="#fbb77a" fill-opacity="0.340"/>
<circle cx="430.3" cy="482.0" r="4.0" fill="#f07f22" fill-opacity="0.374"/>
<circle cx="429.2" cy="400.4" r="4.0" fill="#fbb77a" fill-opacity="0.340"/>
<circle cx="458.3" cy="527.7" r="4.0" fill="#fbb77a" fill-opacity="0.340"/>
<circle cx="461.8" cy="375.2" r="4.0" fill="#a8dc98" fill-opacity="0.306"/>
<circle cx="429.6" cy="496.7" r="4.0" fill="#222222" fill-opacity="0.374"/>
<circle cx="430.5" cy="400.9" r="4.0" fill="#a8dc98" fill-opacity="0.306"/>
<circle cx="432.7" cy="525.4" r="4.0" fill="#2e9e5b" fill-opacity="0.306"/>
<circle cx="467.8" cy="512.0" r="4.0" fill="#e0413a" fill-opacity="0.374"/>
<circle cx="437.7" cy="548.8" r="4.0" fill="#2e9e5b" fill-opacity="0.306"/>
<circle cx="451.3" cy="361.6" r="4.0" fill="#222222" fill-opacity="0.374"/>
<circle cx="437.9" cy="425.4" r="4.0" fill="#222222" fill-opacity="0.374"/>
<circle cx="454.6" cy="514.8" r="4.0" fill="#3a5a9a" fill-opacity="0.374"/>
<circle cx="449.1" cy="521.4" r="4.0" fill="#f5c000" fill-opacity="0.408"/>
<circle cx="449.3" cy="516.4" r="4.0" fill="#f6a9bd" fill-opacity="0.340"/>
<circle cx="434.1" cy="503.4" r="4.0" fill="#f5c000" fill-opacity="0.408"/>
<circle cx="447.3" cy="532.2" r="4.0" fill="#f6a9bd" fill-opacity="0.340"/>
<circle cx="422.3" cy="486.3" r="4.0" fill="#f5c000" fill-opacity="0.408"/>
<circle cx="444.7" cy="538.3" r="4.0" fill="#2e9e5b" fill-opacity="0.306"/>
<circle cx="466.9" cy="499.0" r="4.0" fill="#f5c000" fill-opacity="0.408"/>
<circle cx="441.6" cy="400.3" r="4.0" fill="#fbb77a" fill-opacity="0.340"/>
<circle cx="441.1" cy="491.5" r="4.0" fill="#f07f22" fill-opacity="0.374"/>
<circle cx="468.1" cy="514.8" r="4.0" fill="#fbb77a" fill-opacity="0.340"/>
<circle cx="448.7" cy="516.0" r="4.0" fill="#f5c000" fill-opacity="0.408"/>
<circle cx="445.7" cy="502.4" r="4.0" fill="#f07f22" fill-opacity="0.374"/>
<circle cx="443.0" cy="369.1" r="4.0" fill="#2e9e5b" fill-opacity="0.306"/>
<circle cx="466.0" cy="352.5" r="4.0" fill="#f07f22" fill-opacity="0.374"/>
<circle cx="445.4" cy="278.0" r="4.0" fill="#2e9e5b" fill-opacity="0.306"/>
<circle cx="446.7" cy="546.9" r="4.0" fill="#f07f22" fill-opacity="0.374"/>
<circle cx="432.7" cy="511.7" r="4.0" fill="#888888" fill-opacity="0.306"/>
<circle cx="447.8" cy="502.2" r="4.0" fill="#3a5a9a" fill-opacity="0.374"/>
<circle cx="429.7" cy="437.2" r="4.0" fill="#a8dc98" fill-opacity="0.306"/>
<circle cx="459.6" cy="539.9" r="4.0" fill="#2e9e5b" fill-opacity="0.306"/>
<circle cx="437.4" cy="417.9" r="4.0" fill="#f5c000" fill-opacity="0.408"/>
<circle cx="432.3" cy="499.5" r="4.0" fill="#f5c000" fill-opacity="0.408"/>
<circle cx="424.0" cy="442.1" r="4.0" fill="#f6a9bd" fill-opacity="0.340"/>
<circle cx="467.0" cy="523.6" r="4.0" fill="#a8dc98" fill-opacity="0.306"/>
<circle cx="452.3" cy="212.9" r="4.0" fill="#222222" fill-opacity="0.374"/>
<circle cx="421.1" cy="534.0" r="4.0" fill="#a8dc98" fill-opacity="0.306"/>
<circle cx="445.4" cy="511.5" r="4.0" fill="#2e9e5b" fill-opacity="0.306"/>
<circle cx="431.1" cy="544.5" r="4.0" fill="#fbb77a" fill-opacity="0.340"/>
<circle cx="447.7" cy="242.7" r="4.0" fill="#f6a9bd" fill-opacity="0.340"/>
<circle cx="467.7" cy="508.4" r="4.0" fill="#f6a9bd" fill-opacity="0.340"/>
<circle cx="449.8" cy="466.7" r="4.0" fill="#a8dc98" fill-opacity="0.306"/>
<circle cx="449.7" cy="512.7" r="4.0" fill="#f5c000" fill-opacity="0.408"/>
<circle cx="426.7" cy="506.3" r="4.0" fill="#3a5a9a" fill-opacity="0.374"/>
<circle cx="422.2" cy="526.2" r="4.0" fill="#222222" fill-opacity="0.374"/>
<circle cx="419.1" cy="416.5" r="4.0" fill="#fbb77a" fill-opacity="0.340"/>
<circle cx="458.6" cy="504.1" r="4.0" fill="#3a5a9a" fill-opacity="0.374"/>
<circle cx="457.7" cy="525.0" r="4.0" fill="#2e9e5b" fill-opacity="0.306"/>
<circle cx="456.8" cy="374.2" r="4.0" fill="#7d5a3c" fill-opacity="0.374"/>
<circle cx="433.4" cy="458.9" r="4.0" fill="#fbb77a" fill-opacity="0.340"/>
<circle cx="419.5" cy="498.7" r="4.0" fill="#3a5a9a" fill-opacity="0.374"/>
<circle cx="449.6" cy="475.4" r="4.0" fill="#a8dc98" fill-opacity="0.306"/>
<circle cx="436.3" cy="379.9" r="4.0" fill="#f6a9bd" fill-opacity="0.340"/>
<circle cx="460.9" cy="515.4" r="4.0" fill="#2e9e5b" fill-opacity="0.306"/>
<circle cx="456.4" cy="480.3" r="4.0" fill="#fbb77a" fill-opacity="0.340"/>
<circle cx="446.7" cy="401.2" r="4.0" fill="#e0413a" fill-opacity="0.374"/>
<circle cx="447.1" cy="509.7" r="4.0" fill="#f5c000" fill-opacity="0.408"/>
<circle cx="436.4" cy="205.6" r="4.0" fill="#a8dc98" fill-opacity="0.306"/>
<circle cx="456.0" cy="544.9" r="4.0" fill="#fbb77a" fill-opacity="0.340"/>
<circle cx="439.8" cy="508.8" r="4.0" fill="#f5c000" fill-opacity="0.408"/>
<circle cx="454.7" cy="399.9" r="4.0" fill="#fbb77a" fill-opacity="0.340"/>
<circle cx="435.8" cy="471.1" r="4.0" fill="#7d5a3c" fill-opacity="0.374"/>
<circle cx="436.9" cy="530.6" r="4.0" fill="#f6a9bd" fill-opacity="0.340"/>
<circle cx="443.1" cy="330.4" r="4.0" fill="#a8dc98" fill-opacity="0.306"/>
<circle cx="435.5" cy="498.6" r="4.0" fill="#f5c000" fill-opacity="0.408"/>
<circle cx="464.1" cy="513.3" r="4.0" fill="#888888" fill-opacity="0.306"/>
<circle cx="461.6" cy="517.5" r="4.0" fill="#f5c000" fill-opacity="0.408"/>
<circle cx="431.1" cy="514.1" r="4.0" fill="#f07f22" fill-opacity="0.374"/>
<circle cx="436.3" cy="391.7" r="4.0" fill="#e0413a" fill-opacity="0.374"/>
<circle cx="466.1" cy="310.1" r="4.0" fill="#a8dc98" fill-opacity="0.306"/>
<circle cx="432.5" cy="497.6" r="4.0" fill="#222222" fill-opacity="0.374"/>
<circle cx="444.8" cy="386.0" r="4.0" fill="#fbb77a" fill-opacity="0.340"/>
<circle cx="455.3" cy="513.7" r="4.0" fill="#f5c000" fill-opacity="0.408"/>
<circle cx="464.0" cy="401.2" r="4.0" fill="#f6a9bd" fill-opacity="0.340"/>
<circle cx="425.4" cy="494.6" r="4.0" fill="#f5c000" fill-opacity="0.408"/>
<circle cx="455.4" cy="520.6" r="4.0" fill="#f5c000" fill-opacity="0.408"/>
<circle cx="419.7" cy="424.0" r="4.0" fill="#7d5a3c" fill-opacity="0.374"/>
<circle cx="467.9" cy="323.7" r="4.0" fill="#a8dc98" fill-opacity="0.306"/>
<circle cx="458.1" cy="505.1" r="4.0" fill="#f5c000" fill-opacity="0.408"/>
<circle cx="447.5" cy="335.5" r="4.0" fill="#f5c000" fill-opacity="0.408"/>
<circle cx="462.1" cy="338.7" r="4.0" fill="#f6a9bd" fill-opacity="0.340"/>
<circle cx="446.8" cy="543.6" r="4.0" fill="#a8dc98" fill-opacity="0.306"/>
<circle cx="457.5" cy="532.7" r="4.0" fill="#222222" fill-opacity="0.374"/>
<circle cx="418.7" cy="457.5" r="4.0" fill="#a8dc98" fill-opacity="0.306"/>
<circle cx="436.4" cy="541.9" r="4.0" fill="#f6a9bd" fill-opacity="0.340"/>
<circle cx="423.3" cy="530.2" r="4.0" fill="#f6a9bd" fill-opacity="0.340"/>
<circle cx="466.5" cy="506.7" r="4.0" fill="#f07f22" fill-opacity="0.374"/>
<circle cx="447.5" cy="462.5" r="4.0" fill="#f5c000" fill-opacity="0.408"/>
<circle cx="453.3" cy="505.4" r="4.0" fill="#e0413a" fill-opacity="0.374"/>
<circle cx="457.1" cy="453.9" r="4.0" fill="#3a5a9a" fill-opacity="0.374"/>
<circle cx="455.0" cy="518.0" r="4.0" fill="#f6a9bd" fill-opacity="0.340"/>
<circle cx="426.9" cy="398.4" r="4.0" fill="#e0413a" fill-opacity="0.374"/>
<circle cx="462.3" cy="474.5" r="4.0" fill="#f07f22" fill-opacity="0.374"/>
<circle cx="454.9" cy="521.4" r="4.0" fill="#a8dc98" fill-opacity="0.306"/>
<circle cx="463.2" cy="507.3" r="4.0" fill="#fbb77a" fill-opacity="0.340"/>
<circle cx="424.3" cy="542.7" r="4.0" fill="#f5c000" fill-opacity="0.408"/>
<circle cx="437.8" cy="537.7" r="4.0" fill="#fbb77a" fill-opacity="0.340"/>
<circle cx="459.1" cy="407.7" r="4.0" fill="#222222" fill-opacity="0.374"/>
<circle cx="418.5" cy="524.5" r="4.0" fill="#f5c000" fill-opacity="0.408"/>
<circle cx="456.3" cy="537.2" r="4.0" fill="#2e9e5b" fill-opacity="0.306"/>
<circle cx="456.0" cy="503.8" r="4.0" fill="#2e9e5b" fill-opacity="0.306"/>
<circle cx="430.7" cy="263.0" r="4.0" fill="#f5c000" fill-opacity="0.408"/>
<circle cx="428.5" cy="500.0" r="4.0" fill="#f5c000" fill-opacity="0.408"/>
<circle cx="442.1" cy="523.8" r="4.0" fill="#a8dc98" fill-opacity="0.306"/>
<circle cx="466.3" cy="447.8" r="4.0" fill="#f07f22" fill-opacity="0.374"/>
<circle cx="457.8" cy="366.7" r="4.0" fill="#a8dc98" fill-opacity="0.306"/>
<circle cx="446.7" cy="411.2" r="4.0" fill="#3a5a9a" fill-opacity="0.374"/>
<circle cx="439.4" cy="531.1" r="4.0" fill="#2e9e5b" fill-opacity="0.306"/>
<circle cx="442.2" cy="529.9" r="4.0" fill="#f5c000" fill-opacity="0.408"/>
<circle cx="467.1" cy="397.8" r="4.0" fill="#fbb77a" fill-opacity="0.340"/>
<circle cx="463.3" cy="499.2" r="4.0" fill="#f5c000" fill-opacity="0.408"/>
<circle cx="425.6" cy="523.1" r="4.0" fill="#f5c000" fill-opacity="0.408"/>
<circle cx="449.7" cy="401.0" r="4.0" fill="#2e9e5b" fill-opacity="0.306"/>
<circle cx="444.3" cy="515.2" r="4.0" fill="#888888" fill-opacity="0.306"/>
<circle cx="437.8" cy="431.0" r="4.0" fill="#222222" fill-opacity="0.374"/>
<circle cx="422.0" cy="305.8" r="4.0" fill="#a8dc98" fill-opacity="0.306"/>
<circle cx="451.4" cy="446.5" r="4.0" fill="#a8dc98" fill-opacity="0.306"/>
<circle cx="446.9" cy="468.4" r="4.0" fill="#3a5a9a" fill-opacity="0.374"/>
<circle cx="458.7" cy="522.3" r="4.0" fill="#f5c000" fill-opacity="0.408"/>
<circle cx="454.3" cy="501.4" r="4.0" fill="#2e9e5b" fill-opacity="0.306"/>
<circle cx="449.7" cy="513.0" r="4.0" fill="#f07f22" fill-opacity="0.374"/>
<circle cx="452.5" cy="545.3" r="4.0" fill="#f5c000" fill-opacity="0.408"/>
<circle cx="428.9" cy="248.0" r="4.0" fill="#a8dc98" fill-opacity="0.306"/>
<circle cx="444.2" cy="297.6" r="4.0" fill="#7d5a3c" fill-opacity="0.374"/>
<circle cx="428.9" cy="531.5" r="4.0" fill="#fbb77a" fill-opacity="0.340"/>
<circle cx="455.8" cy="516.4" r="4.0" fill="#2e9e5b" fill-opacity="0.306"/>
<circle cx="468.4" cy="536.5" r="4.0" fill="#f5c000" fill-opacity="0.408"/>
<circle cx="422.7" cy="518.8" r="4.0" fill="#f5c000" fill-opacity="0.408"/>
<circle cx="452.9" cy="388.8" r="4.0" fill="#a8dc98" fill-opacity="0.306"/>
<circle cx="430.5" cy="511.0" r="4.0" fill="#f6a9bd" fill-opacity="0.340"/>
<circle cx="468.5" cy="534.7" r="4.0" fill="#2e9e5b" fill-opacity="0.306"/>
<circle cx="432.3" cy="218.5" r="4.0" fill="#2e9e5b" fill-opacity="0.306"/>
<circle cx="433.4" cy="507.9" r="4.0" fill="#f07f22" fill-opacity="0.374"/>
<circle cx="447.7" cy="380.4" r="4.0" fill="#f6a9bd" fill-opacity="0.340"/>
<circle cx="428.1" cy="400.7" r="4.0" fill="#a8dc98" fill-opacity="0.306"/>
<circle cx="420.5" cy="369.7" r="4.0" fill="#e0413a" fill-opacity="0.374"/>
<circle cx="557.1" cy="541.7" r="4.0" fill="#fbb77a" fill-opacity="0.340"/>
<circle cx="538.1" cy="435.3" r="4.0" fill="#a8dc98" fill-opacity="0.306"/>
<circle cx="558.5" cy="250.7" r="4.0" fill="#e0413a" fill-opacity="0.374"/>
<circle cx="562.9" cy="414.2" r="4.0" fill="#f6a9bd" fill-opacity="0.340"/>
<circle cx="545.9" cy="424.7" r="4.0" fill="#fbb77a" fill-opacity="0.340"/>
<circle cx="563.3" cy="499.4" r="4.0" fill="#222222" fill-opacity="0.374"/>
<circle cx="583.7" cy="344.5" r="4.0" fill="#f5c000" fill-opacity="0.408"/>
<circle cx="540.2" cy="535.8" r="4.0" fill="#888888" fill-opacity="0.306"/>
<circle cx="561.4" cy="470.9" r="4.0" fill="#fbb77a" fill-opacity="0.340"/>
<circle cx="543.3" cy="501.8" r="4.0" fill="#222222" fill-opacity="0.374"/>
<circle cx="545.4" cy="387.3" r="4.0" fill="#f6a9bd" fill-opacity="0.340"/>
<circle cx="548.1" cy="477.7" r="4.0" fill="#e0413a" fill-opacity="0.374"/>
<circle cx="558.1" cy="383.5" r="4.0" fill="#fbb77a" fill-opacity="0.340"/>
<circle cx="538.4" cy="450.2" r="4.0" fill="#2e9e5b" fill-opacity="0.306"/>
<circle cx="550.8" cy="515.8" r="4.0" fill="#fbb77a" fill-opacity="0.340"/>
<circle cx="568.4" cy="350.5" r="4.0" fill="#a8dc98" fill-opacity="0.306"/>
<circle cx="540.7" cy="504.6" r="4.0" fill="#888888" fill-opacity="0.306"/>
<circle cx="559.2" cy="506.5" r="4.0" fill="#fbb77a" fill-opacity="0.340"/>
<circle cx="535.2" cy="398.2" r="4.0" fill="#fbb77a" fill-opacity="0.340"/>
<circle cx="560.8" cy="500.8" r="4.0" fill="#f5c000" fill-opacity="0.408"/>
<circle cx="558.6" cy="473.0" r="4.0" fill="#2e9e5b" fill-opacity="0.306"/>
<circle cx="562.0" cy="472.4" r="4.0" fill="#fbb77a" fill-opacity="0.340"/>
<circle cx="560.0" cy="513.0" r="4.0" fill="#f6a9bd" fill-opacity="0.340"/>
<circle cx="567.8" cy="457.3" r="4.0" fill="#f6a9bd" fill-opacity="0.340"/>
<circle cx="575.6" cy="493.9" r="4.0" fill="#e0413a" fill-opacity="0.374"/>
<circle cx="572.4" cy="463.9" r="4.0" fill="#3a5a9a" fill-opacity="0.374"/>
<circle cx="553.4" cy="257.7" r="4.0" fill="#e0413a" fill-opacity="0.374"/>
<circle cx="543.9" cy="488.2" r="4.0" fill="#fbb77a" fill-opacity="0.340"/>
<circle cx="565.1" cy="454.9" r="4.0" fill="#e0413a" fill-opacity="0.374"/>
<circle cx="538.8" cy="405.2" r="4.0" fill="#f6a9bd" fill-opacity="0.340"/>
<circle cx="536.4" cy="361.7" r="4.0" fill="#2e9e5b" fill-opacity="0.306"/>
<circle cx="541.8" cy="481.4" r="4.0" fill="#fbb77a" fill-opacity="0.340"/>
<circle cx="572.8" cy="491.9" r="4.0" fill="#a8dc98" fill-opacity="0.306"/>
<circle cx="582.5" cy="394.3" r="4.0" fill="#a8dc98" fill-opacity="0.306"/>
<circle cx="569.2" cy="438.1" r="4.0" fill="#f6a9bd" fill-opacity="0.340"/>
<circle cx="583.0" cy="523.7" r="4.0" fill="#fbb77a" fill-opacity="0.340"/>
<circle cx="558.9" cy="396.9" r="4.0" fill="#2e9e5b" fill-opacity="0.306"/>
<circle cx="583.0" cy="398.0" r="4.0" fill="#2e9e5b" fill-opacity="0.306"/>
<circle cx="585.2" cy="461.7" r="4.0" fill="#a8dc98" fill-opacity="0.306"/>
<circle cx="545.6" cy="390.4" r="4.0" fill="#f5c000" fill-opacity="0.408"/>
<circle cx="544.9" cy="521.0" r="4.0" fill="#888888" fill-opacity="0.306"/>
<circle cx="557.9" cy="441.2" r="4.0" fill="#f6a9bd" fill-opacity="0.340"/>
<circle cx="583.6" cy="392.8" r="4.0" fill="#a8dc98" fill-opacity="0.306"/>
<circle cx="555.4" cy="416.9" r="4.0" fill="#a8dc98" fill-opacity="0.306"/>
<circle cx="568.7" cy="530.0" r="4.0" fill="#fbb77a" fill-opacity="0.340"/>
<circle cx="553.7" cy="271.0" r="4.0" fill="#f6a9bd" fill-opacity="0.340"/>
<circle cx="576.8" cy="445.2" r="4.0" fill="#f6a9bd" fill-opacity="0.340"/>
<circle cx="565.6" cy="519.6" r="4.0" fill="#fbb77a" fill-opacity="0.340"/>
<circle cx="557.8" cy="478.9" r="4.0" fill="#a8dc98" fill-opacity="0.306"/>
<circle cx="570.9" cy="467.9" r="4.0" fill="#f5c000" fill-opacity="0.408"/>
<circle cx="546.9" cy="318.4" r="4.0" fill="#f6a9bd" fill-opacity="0.340"/>
<circle cx="583.6" cy="452.0" r="4.0" fill="#f6a9bd" fill-opacity="0.340"/>
<circle cx="541.6" cy="480.4" r="4.0" fill="#f6a9bd" fill-opacity="0.340"/>
<circle cx="564.3" cy="496.1" r="4.0" fill="#222222" fill-opacity="0.374"/>
<circle cx="537.5" cy="421.6" r="4.0" fill="#f6a9bd" fill-opacity="0.340"/>
<circle cx="543.1" cy="306.8" r="4.0" fill="#3a5a9a" fill-opacity="0.374"/>
<circle cx="557.7" cy="531.9" r="4.0" fill="#f5c000" fill-opacity="0.408"/>
<circle cx="579.9" cy="471.6" r="4.0" fill="#a8dc98" fill-opacity="0.306"/>
<circle cx="578.5" cy="519.3" r="4.0" fill="#888888" fill-opacity="0.306"/>
<circle cx="548.3" cy="544.1" r="4.0" fill="#888888" fill-opacity="0.306"/>
<circle cx="555.4" cy="432.5" r="4.0" fill="#f6a9bd" fill-opacity="0.340"/>
<circle cx="581.3" cy="537.8" r="4.0" fill="#fbb77a" fill-opacity="0.340"/>
<circle cx="535.5" cy="296.9" r="4.0" fill="#a8dc98" fill-opacity="0.306"/>
<circle cx="549.3" cy="381.9" r="4.0" fill="#888888" fill-opacity="0.306"/>
<circle cx="579.0" cy="403.4" r="4.0" fill="#a8dc98" fill-opacity="0.306"/>
<circle cx="561.6" cy="236.1" r="4.0" fill="#f5c000" fill-opacity="0.408"/>
<circle cx="575.8" cy="377.9" r="4.0" fill="#fbb77a" fill-opacity="0.340"/>
<circle cx="560.8" cy="533.5" r="4.0" fill="#fbb77a" fill-opacity="0.340"/>
<circle cx="547.0" cy="331.9" r="4.0" fill="#fbb77a" fill-opacity="0.340"/>
<circle cx="564.5" cy="460.4" r="4.0" fill="#3a5a9a" fill-opacity="0.374"/>
<circle cx="580.4" cy="516.9" r="4.0" fill="#888888" fill-opacity="0.306"/>
<circle cx="544.4" cy="536.8" r="4.0" fill="#fbb77a" fill-opacity="0.340"/>
<circle cx="580.4" cy="508.9" r="4.0" fill="#f6a9bd" fill-opacity="0.340"/>
<circle cx="543.9" cy="496.8" r="4.0" fill="#a8dc98" fill-opacity="0.306"/>
<circle cx="547.6" cy="489.3" r="4.0" fill="#fbb77a" fill-opacity="0.340"/>
<circle cx="553.3" cy="514.4" r="4.0" fill="#f6a9bd" fill-opacity="0.340"/>
<circle cx="569.1" cy="528.4" r="4.0" fill="#fbb77a" fill-opacity="0.340"/>
<circle cx="572.4" cy="531.4" r="4.0" fill="#f6a9bd" fill-opacity="0.340"/>
<circle cx="558.7" cy="508.6" r="4.0" fill="#f6a9bd" fill-opacity="0.340"/>
<circle cx="575.4" cy="543.5" r="4.0" fill="#fbb77a" fill-opacity="0.340"/>
<circle cx="558.8" cy="397.0" r="4.0" fill="#fbb77a" fill-opacity="0.340"/>
<circle cx="570.8" cy="494.2" r="4.0" fill="#a8dc98" fill-opacity="0.306"/>
<circle cx="543.8" cy="486.0" r="4.0" fill="#888888" fill-opacity="0.306"/>
<circle cx="574.7" cy="482.9" r="4.0" fill="#fbb77a" fill-opacity="0.340"/>
<circle cx="556.6" cy="287.3" r="4.0" fill="#888888" fill-opacity="0.306"/>
<circle cx="545.2" cy="524.4" r="4.0" fill="#f5c000" fill-opacity="0.408"/>
<circle cx="583.6" cy="502.6" r="4.0" fill="#e0413a" fill-opacity="0.374"/>
<circle cx="546.5" cy="475.1" r="4.0" fill="#2e9e5b" fill-opacity="0.306"/>
<circle cx="552.9" cy="539.2" r="4.0" fill="#f6a9bd" fill-opacity="0.340"/>
<circle cx="573.7" cy="505.6" r="4.0" fill="#f5c000" fill-opacity="0.408"/>
<circle cx="546.0" cy="486.2" r="4.0" fill="#fbb77a" fill-opacity="0.340"/>
<circle cx="548.2" cy="483.6" r="4.0" fill="#f5c000" fill-opacity="0.408"/>
<circle cx="541.5" cy="466.9" r="4.0" fill="#f6a9bd" fill-opacity="0.340"/>
<circle cx="556.1" cy="525.9" r="4.0" fill="#fbb77a" fill-opacity="0.340"/>
<circle cx="564.3" cy="340.3" r="4.0" fill="#e0413a" fill-opacity="0.374"/>
<circle cx="564.0" cy="470.0" r="4.0" fill="#f07f22" fill-opacity="0.374"/>
<circle cx="570.5" cy="510.5" r="4.0" fill="#f5c000" fill-opacity="0.408"/>
<circle cx="543.5" cy="373.1" r="4.0" fill="#2e9e5b" fill-opacity="0.306"/>
<circle cx="535.5" cy="365.9" r="4.0" fill="#fbb77a" fill-opacity="0.340"/>
<circle cx="542.8" cy="472.7" r="4.0" fill="#f07f22" fill-opacity="0.374"/>
<circle cx="583.7" cy="474.3" r="4.0" fill="#2e9e5b" fill-opacity="0.306"/>
<circle cx="577.2" cy="490.9" r="4.0" fill="#a8dc98" fill-opacity="0.306"/>
<circle cx="567.0" cy="498.1" r="4.0" fill="#a8dc98" fill-opacity="0.306"/>
</g>
<line x1="211.20" y1="520.70" x2="211.20" y2="485.00" stroke="#7b7b7b" stroke-width="2.5" stroke-linecap="butt"/>
<line x1="211.20" y1="544.10" x2="211.20" y2="555.00" stroke="#7b7b7b" stroke-width="2.5" stroke-linecap="butt"/>
<line x1="186.50" y1="485.00" x2="235.90" y2="485.00" stroke="#7b7b7b" stroke-width="2.5" stroke-linecap="butt"/>
<line x1="186.50" y1="555.00" x2="235.90" y2="555.00" stroke="#7b7b7b" stroke-width="2.5" stroke-linecap="butt"/>
<line x1="164.90" y1="537.20" x2="257.50" y2="537.20" stroke="#7b7b7b" stroke-width="2.5" stroke-linecap="butt"/>
<line x1="327.50" y1="494.00" x2="327.50" y2="447.50" stroke="#7b7b7b" stroke-width="2.5" stroke-linecap="butt"/>
<line x1="327.50" y1="541.80" x2="327.50" y2="552.80" stroke="#7b7b7b" stroke-width="2.5" stroke-linecap="butt"/>
<line x1="302.80" y1="447.50" x2="352.20" y2="447.50" stroke="#7b7b7b" stroke-width="2.5" stroke-linecap="butt"/>
<line x1="302.80" y1="552.80" x2="352.20" y2="552.80" stroke="#7b7b7b" stroke-width="2.5" stroke-linecap="butt"/>
<line x1="281.20" y1="529.20" x2="373.80" y2="529.20" stroke="#7b7b7b" stroke-width="2.5" stroke-linecap="butt"/>
<line x1="443.80" y1="401.20" x2="443.80" y2="233.00" stroke="#7b7b7b" stroke-width="2.5" stroke-linecap="butt"/>
<line x1="443.80" y1="516.80" x2="443.80" y2="548.70" stroke="#7b7b7b" stroke-width="2.5" stroke-linecap="butt"/>
<line x1="419.10" y1="233.00" x2="468.50" y2="233.00" stroke="#7b7b7b" stroke-width="2.5" stroke-linecap="butt"/>
<line x1="419.10" y1="548.70" x2="468.50" y2="548.70" stroke="#7b7b7b" stroke-width="2.5" stroke-linecap="butt"/>
<line x1="397.50" y1="499.20" x2="490.10" y2="499.20" stroke="#7b7b7b" stroke-width="2.5" stroke-linecap="butt"/>
<line x1="560.10" y1="398.20" x2="560.10" y2="243.50" stroke="#7b7b7b" stroke-width="2.5" stroke-linecap="butt"/>
<line x1="560.10" y1="506.00" x2="560.10" y2="545.20" stroke="#7b7b7b" stroke-width="2.5" stroke-linecap="butt"/>
<line x1="535.40" y1="243.50" x2="584.80" y2="243.50" stroke="#7b7b7b" stroke-width="2.5" stroke-linecap="butt"/>
<line x1="535.40" y1="545.20" x2="584.80" y2="545.20" stroke="#7b7b7b" stroke-width="2.5" stroke-linecap="butt"/>
<line x1="513.80" y1="472.80" x2="606.40" y2="472.80" stroke="#7b7b7b" stroke-width="2.5" stroke-linecap="butt"/>
<line x1="153.00" y1="208.30" x2="153.00" y2="558.35" stroke="#000" stroke-width="3.3" stroke-linecap="butt"/>
<line x1="151.35" y1="556.70" x2="620.00" y2="556.70" stroke="#000" stroke-width="3.3" stroke-linecap="butt"/>
<line x1="138.60" y1="556.70" x2="153.00" y2="556.70" stroke="#000" stroke-width="3.3" stroke-linecap="butt"/>
<text transform="translate(123.80,567.10) scale(1,1.04)" font-size="29" text-anchor="end">0</text>
<line x1="138.60" y1="457.63" x2="153.00" y2="457.63" stroke="#000" stroke-width="3.3" stroke-linecap="butt"/>
<text transform="translate(123.80,468.03) scale(1,1.04)" font-size="29" text-anchor="end">200</text>
<line x1="138.60" y1="358.57" x2="153.00" y2="358.57" stroke="#000" stroke-width="3.3" stroke-linecap="butt"/>
<text transform="translate(123.80,368.97) scale(1,1.04)" font-size="29" text-anchor="end">400</text>
<line x1="138.60" y1="259.50" x2="153.00" y2="259.50" stroke="#000" stroke-width="3.3" stroke-linecap="butt"/>
<text transform="translate(123.80,269.90) scale(1,1.04)" font-size="29" text-anchor="end">600</text>
<line x1="211.20" y1="556.70" x2="211.20" y2="571.30" stroke="#000" stroke-width="3.3" stroke-linecap="butt"/>
<line x1="327.50" y1="556.70" x2="327.50" y2="571.30" stroke="#000" stroke-width="3.3" stroke-linecap="butt"/>
<line x1="443.80" y1="556.70" x2="443.80" y2="571.30" stroke="#000" stroke-width="3.3" stroke-linecap="butt"/>
<line x1="560.10" y1="556.70" x2="560.10" y2="571.30" stroke="#000" stroke-width="3.3" stroke-linecap="butt"/>
<text transform="translate(20.60,382.50) rotate(-90) scale(1,1.04)" font-size="29" text-anchor="middle">Indels DSB repair by</text>
<text transform="translate(52.90,382.50) rotate(-90) scale(1,1.04)" font-size="29" text-anchor="middle">non-homologous end-joining</text>
<text transform="translate(219.10,597.90) rotate(-90) scale(1,1.04)" font-size="29.35" text-anchor="end">Not radiated (651)</text>
<text transform="translate(335.40,597.90) rotate(-90) scale(1,1.04)" font-size="29.35" text-anchor="end">Radiated (141)</text>
<text transform="translate(451.70,597.90) rotate(-90) scale(1,1.04)" font-size="29.35" text-anchor="end">Not radiated (271)</text>
<text transform="translate(568.00,597.90) rotate(-90) scale(1,1.04)" font-size="29.35" text-anchor="end">Radiated (103)</text>
<line x1="170.80" y1="867.90" x2="370.80" y2="867.90" stroke="#000" stroke-width="3.3" stroke-linecap="butt"/>
<line x1="402.00" y1="867.90" x2="601.40" y2="867.90" stroke="#000" stroke-width="3.3" stroke-linecap="butt"/>
<text transform="translate(266.90,936.30) scale(1,1.04)" font-size="29" text-anchor="middle">HR proficient</text>
<text transform="translate(498.40,936.30) scale(1,1.04)" font-size="29" text-anchor="middle">HR deficient</text>
<line x1="195.50" y1="203.30" x2="345.80" y2="203.30" stroke="#000" stroke-width="3.3" stroke-linecap="butt"/>
<line x1="418.70" y1="202.60" x2="585.80" y2="202.60" stroke="#000" stroke-width="3.3" stroke-linecap="butt"/>
<line x1="331.30" y1="134.20" x2="560.00" y2="134.20" stroke="#000" stroke-width="3.3" stroke-linecap="butt"/>
<text transform="translate(182.00,189.20) scale(1,1.04)" font-size="29"><tspan font-style="italic">P</tspan> = 1.77x10</text>
<text transform="translate(339.50,168.30) scale(1,1.04)" font-size="20">−14</text>
<text transform="translate(364.00,120.50) scale(1,1.04)" font-size="29"><tspan font-style="italic">P</tspan> = 2.76x10</text>
<text transform="translate(521.00,100.00) scale(1,1.04)" font-size="20">−4</text>
<text transform="translate(428.00,189.20) scale(1,1.04)" font-size="29"><tspan font-style="italic">P</tspan> = 1.80x10</text>
<text transform="translate(585.20,168.30) scale(1,1.04)" font-size="20">−2</text>
<text transform="translate(742.30,46.00) scale(1,1.02)" font-size="61.5" text-anchor="start" font-weight="bold">b</text>
<text transform="translate(1287.00,72.80)" font-size="29.3" text-anchor="start">Temozolomide (TMZ)</text>
<text transform="translate(999.00,142.00) scale(1,1.04)" font-size="27.15" text-anchor="start">Several organs of origin (WGS)</text>
<text transform="translate(1561.00,142.00) scale(1,1.04)" font-size="27.3" text-anchor="start">Glioma (WEX)</text>
<line x1="1018.30" y1="200.80" x2="1018.30" y2="550.85" stroke="#000" stroke-width="3.3" stroke-linecap="butt"/>
<line x1="1016.65" y1="549.20" x2="1310.80" y2="549.20" stroke="#000" stroke-width="3.3" stroke-linecap="butt"/>
<line x1="1003.30" y1="441.80" x2="1018.30" y2="441.80" stroke="#000" stroke-width="3.3" stroke-linecap="butt"/>
<text transform="translate(989.00,451.60) scale(1,1.07)" font-size="27.1" text-anchor="end">50000</text>
<line x1="1003.30" y1="355.70" x2="1018.30" y2="355.70" stroke="#000" stroke-width="3.3" stroke-linecap="butt"/>
<text transform="translate(989.00,365.50) scale(1,1.07)" font-size="27.1" text-anchor="end">100000</text>
<line x1="1003.30" y1="269.60" x2="1018.30" y2="269.60" stroke="#000" stroke-width="3.3" stroke-linecap="butt"/>
<text transform="translate(989.00,279.40) scale(1,1.07)" font-size="27.1" text-anchor="end">150000</text>
<line x1="1003.30" y1="527.90" x2="1018.30" y2="527.90" stroke="#000" stroke-width="3.3" stroke-linecap="butt"/>
<text transform="translate(989.00,537.30) scale(1,1.04)" font-size="23" text-anchor="end">0</text>
<line x1="1054.20" y1="549.20" x2="1054.20" y2="564.00" stroke="#000" stroke-width="3.3" stroke-linecap="butt"/>
<line x1="1127.00" y1="549.20" x2="1127.00" y2="564.00" stroke="#000" stroke-width="3.3" stroke-linecap="butt"/>
<line x1="1199.80" y1="549.20" x2="1199.80" y2="564.00" stroke="#000" stroke-width="3.3" stroke-linecap="butt"/>
<line x1="1272.60" y1="549.20" x2="1272.60" y2="564.00" stroke="#000" stroke-width="3.3" stroke-linecap="butt"/>
<text transform="translate(1062.00,578.20) rotate(-90) scale(1,1.04)" font-size="27.35" text-anchor="end">MMR-prof (2971)</text>
<text transform="translate(1134.80,578.20) rotate(-90) scale(1,1.04)" font-size="27.35" text-anchor="end">MMR-def (299)</text>
<text transform="translate(1207.60,578.20) rotate(-90) scale(1,1.04)" font-size="27.35" text-anchor="end">MMR-prof (17)</text>
<text transform="translate(1280.40,578.20) rotate(-90) scale(1,1.04)" font-size="27.35" text-anchor="end">MMR-def (5)</text>
<text transform="translate(877.00,354.70) rotate(-90) scale(1,1.04)" font-size="27.0" text-anchor="middle">TMZ related SBS</text>
<line x1="1026.20" y1="865.40" x2="1153.30" y2="865.40" stroke="#000" stroke-width="3.3" stroke-linecap="butt"/>
<line x1="1176.20" y1="865.40" x2="1303.30" y2="865.40" stroke="#000" stroke-width="3.3" stroke-linecap="butt"/>
<text transform="translate(1092.20,907.00) scale(1,1.04)" font-size="27" text-anchor="middle">TMZ</text>
<text transform="translate(1091.70,940.00) scale(1,1.04)" font-size="27" text-anchor="middle">untreated</text>
<text transform="translate(1242.10,907.00) scale(1,1.04)" font-size="27" text-anchor="middle">TMZ</text>
<text transform="translate(1241.30,940.00) scale(1,1.04)" font-size="27" text-anchor="middle">treated</text>
<circle cx="1044.0" cy="527.9" r="8.2" fill="#800080" stroke="#222222" stroke-width="2.2"/>
<circle cx="1056.9" cy="527.9" r="8.2" fill="#800080" stroke="#222222" stroke-width="2.2"/>
<circle cx="1049.5" cy="527.9" r="8.2" fill="#800080" stroke="#222222" stroke-width="2.2"/>
<circle cx="1059.4" cy="527.9" r="8.2" fill="#800080" stroke="#222222" stroke-width="2.2"/>
<circle cx="1060.3" cy="527.9" r="8.2" fill="#800080" stroke="#222222" stroke-width="2.2"/>
<circle cx="1036.8" cy="527.9" r="8.2" fill="#800080" stroke="#222222" stroke-width="2.2"/>
<circle cx="1034.6" cy="527.9" r="8.2" fill="#800080" stroke="#222222" stroke-width="2.2"/>
<circle cx="1069.2" cy="527.9" r="8.2" fill="#800080" stroke="#222222" stroke-width="2.2"/>
<circle cx="1044.9" cy="527.9" r="8.2" fill="#800080" stroke="#222222" stroke-width="2.2"/>
<circle cx="1043.8" cy="527.9" r="8.2" fill="#800080" stroke="#222222" stroke-width="2.2"/>
<circle cx="1075.8" cy="527.9" r="8.2" fill="#800080" stroke="#222222" stroke-width="2.2"/>
<circle cx="1053.8" cy="527.9" r="8.2" fill="#800080" stroke="#222222" stroke-width="2.2"/>
<circle cx="1069.1" cy="527.9" r="8.2" fill="#800080" stroke="#222222" stroke-width="2.2"/>
<circle cx="1054.0" cy="527.9" r="8.2" fill="#800080" stroke="#222222" stroke-width="2.2"/>
<circle cx="1060.8" cy="527.9" r="8.2" fill="#800080" stroke="#222222" stroke-width="2.2"/>
<circle cx="1040.3" cy="527.9" r="8.2" fill="#800080" stroke="#222222" stroke-width="2.2"/>
<circle cx="1060.7" cy="527.9" r="8.2" fill="#800080" stroke="#222222" stroke-width="2.2"/>
<circle cx="1070.5" cy="527.9" r="8.2" fill="#800080" stroke="#222222" stroke-width="2.2"/>
<circle cx="1056.0" cy="527.9" r="8.2" fill="#800080" stroke="#222222" stroke-width="2.2"/>
<circle cx="1065.1" cy="527.9" r="8.2" fill="#800080" stroke="#222222" stroke-width="2.2"/>
<circle cx="1062.2" cy="527.9" r="8.2" fill="#800080" stroke="#222222" stroke-width="2.2"/>
<circle cx="1036.7" cy="527.9" r="8.2" fill="#800080" stroke="#222222" stroke-width="2.2"/>
<circle cx="1065.8" cy="527.9" r="8.2" fill="#800080" stroke="#222222" stroke-width="2.2"/>
<circle cx="1058.8" cy="527.9" r="8.2" fill="#800080" stroke="#222222" stroke-width="2.2"/>
<circle cx="1046.7" cy="527.9" r="8.2" fill="#800080" stroke="#222222" stroke-width="2.2"/>
<circle cx="1035.3" cy="527.9" r="8.2" fill="#800080" stroke="#222222" stroke-width="2.2"/>
<circle cx="1070.4" cy="527.9" r="8.2" fill="#800080" stroke="#222222" stroke-width="2.2"/>
<circle cx="1053.9" cy="527.9" r="8.2" fill="#800080" stroke="#222222" stroke-width="2.2"/>
<circle cx="1064.2" cy="527.9" r="8.2" fill="#800080" stroke="#222222" stroke-width="2.2"/>
<circle cx="1070.9" cy="527.9" r="8.2" fill="#800080" stroke="#222222" stroke-width="2.2"/>
<circle cx="1064.0" cy="527.9" r="8.2" fill="#800080" stroke="#222222" stroke-width="2.2"/>
<circle cx="1072.7" cy="527.9" r="8.2" fill="#800080" stroke="#222222" stroke-width="2.2"/>
<circle cx="1050.6" cy="527.9" r="8.2" fill="#800080" stroke="#222222" stroke-width="2.2"/>
<circle cx="1067.6" cy="527.9" r="8.2" fill="#800080" stroke="#222222" stroke-width="2.2"/>
<circle cx="1036.0" cy="518.5" r="8.2" fill="#800080" stroke="#222222" stroke-width="2.2"/>
<circle cx="1054.0" cy="519.5" r="8.2" fill="#800080" stroke="#222222" stroke-width="2.2"/>
<circle cx="1077.0" cy="522.5" r="8.2" fill="#800080" stroke="#222222" stroke-width="2.2"/>
<circle cx="1062.0" cy="521.5" r="8.2" fill="#800080" stroke="#222222" stroke-width="2.2"/>
<circle cx="1045.0" cy="522.0" r="8.2" fill="#800080" stroke="#222222" stroke-width="2.2"/>
<circle cx="1046.0" cy="527.6" r="8.2" fill="#800080" stroke="#222222" stroke-width="2.2"/>
<circle cx="1059.0" cy="527.6" r="8.2" fill="#800080" stroke="#222222" stroke-width="2.2"/>
<circle cx="1125.1" cy="527.9" r="8.2" fill="#800080" stroke="#222222" stroke-width="2.2"/>
<circle cx="1146.2" cy="527.9" r="8.2" fill="#800080" stroke="#222222" stroke-width="2.2"/>
<circle cx="1143.8" cy="527.9" r="8.2" fill="#800080" stroke="#222222" stroke-width="2.2"/>
<circle cx="1110.2" cy="527.9" r="8.2" fill="#800080" stroke="#222222" stroke-width="2.2"/>
<circle cx="1111.8" cy="527.9" r="8.2" fill="#800080" stroke="#222222" stroke-width="2.2"/>
<circle cx="1115.3" cy="527.9" r="8.2" fill="#800080" stroke="#222222" stroke-width="2.2"/>
<circle cx="1147.5" cy="527.9" r="8.2" fill="#800080" stroke="#222222" stroke-width="2.2"/>
<circle cx="1124.8" cy="527.9" r="8.2" fill="#800080" stroke="#222222" stroke-width="2.2"/>
<circle cx="1132.9" cy="527.9" r="8.2" fill="#800080" stroke="#222222" stroke-width="2.2"/>
<circle cx="1118.9" cy="527.9" r="8.2" fill="#800080" stroke="#222222" stroke-width="2.2"/>
<circle cx="1127.8" cy="527.9" r="8.2" fill="#800080" stroke="#222222" stroke-width="2.2"/>
<circle cx="1122.6" cy="527.9" r="8.2" fill="#800080" stroke="#222222" stroke-width="2.2"/>
<circle cx="1121.1" cy="527.9" r="8.2" fill="#800080" stroke="#222222" stroke-width="2.2"/>
<circle cx="1131.2" cy="527.9" r="8.2" fill="#800080" stroke="#222222" stroke-width="2.2"/>
<circle cx="1131.1" cy="527.9" r="8.2" fill="#800080" stroke="#222222" stroke-width="2.2"/>
<circle cx="1144.9" cy="527.9" r="8.2" fill="#800080" stroke="#222222" stroke-width="2.2"/>
<circle cx="1135.3" cy="527.9" r="8.2" fill="#800080" stroke="#222222" stroke-width="2.2"/>
<circle cx="1145.9" cy="527.9" r="8.2" fill="#800080" stroke="#222222" stroke-width="2.2"/>
<circle cx="1142.8" cy="527.9" r="8.2" fill="#800080" stroke="#222222" stroke-width="2.2"/>
<circle cx="1148.6" cy="527.9" r="8.2" fill="#800080" stroke="#222222" stroke-width="2.2"/>
<circle cx="1134.9" cy="527.9" r="8.2" fill="#800080" stroke="#222222" stroke-width="2.2"/>
<circle cx="1113.0" cy="527.9" r="8.2" fill="#800080" stroke="#222222" stroke-width="2.2"/>
<circle cx="1143.0" cy="527.9" r="8.2" fill="#800080" stroke="#222222" stroke-width="2.2"/>
<circle cx="1147.5" cy="527.9" r="8.2" fill="#800080" stroke="#222222" stroke-width="2.2"/>
<circle cx="1144.9" cy="527.9" r="8.2" fill="#800080" stroke="#222222" stroke-width="2.2"/>
<circle cx="1130.5" cy="527.9" r="8.2" fill="#800080" stroke="#222222" stroke-width="2.2"/>
<circle cx="1136.7" cy="527.9" r="8.2" fill="#800080" stroke="#222222" stroke-width="2.2"/>
<circle cx="1115.1" cy="527.9" r="8.2" fill="#800080" stroke="#222222" stroke-width="2.2"/>
<circle cx="1141.8" cy="527.9" r="8.2" fill="#800080" stroke="#222222" stroke-width="2.2"/>
<circle cx="1130.7" cy="527.9" r="8.2" fill="#800080" stroke="#222222" stroke-width="2.2"/>
<circle cx="1118.3" cy="527.9" r="8.2" fill="#800080" stroke="#222222" stroke-width="2.2"/>
<circle cx="1108.7" cy="527.9" r="8.2" fill="#800080" stroke="#222222" stroke-width="2.2"/>
<circle cx="1142.7" cy="527.9" r="8.2" fill="#800080" stroke="#222222" stroke-width="2.2"/>
<circle cx="1148.6" cy="527.9" r="8.2" fill="#800080" stroke="#222222" stroke-width="2.2"/>
<circle cx="1117.8" cy="512.9" r="8.2" fill="#800080" stroke="#222222" stroke-width="2.2"/>
<circle cx="1142.4" cy="509.6" r="8.2" fill="#800080" stroke="#222222" stroke-width="2.2"/>
<circle cx="1126.8" cy="517.0" r="8.2" fill="#800080" stroke="#222222" stroke-width="2.2"/>
<circle cx="1145.7" cy="519.5" r="8.2" fill="#800080" stroke="#222222" stroke-width="2.2"/>
<circle cx="1114.6" cy="517.8" r="8.2" fill="#800080" stroke="#222222" stroke-width="2.2"/>
<circle cx="1121.0" cy="514.0" r="8.2" fill="#800080" stroke="#222222" stroke-width="2.2"/>
<circle cx="1138.0" cy="521.0" r="8.2" fill="#800080" stroke="#222222" stroke-width="2.2"/>
<circle cx="1108.0" cy="527.6" r="8.2" fill="#800080" stroke="#222222" stroke-width="2.2"/>
<circle cx="1128.0" cy="527.6" r="8.2" fill="#800080" stroke="#222222" stroke-width="2.2"/>
<circle cx="1140.0" cy="527.6" r="8.2" fill="#800080" stroke="#222222" stroke-width="2.2"/>
<circle cx="1181.7" cy="527.9" r="8.2" fill="#800080" stroke="#222222" stroke-width="2.2"/>
<circle cx="1211.2" cy="527.9" r="8.2" fill="#800080" stroke="#222222" stroke-width="2.2"/>
<circle cx="1195.0" cy="527.9" r="8.2" fill="#800080" stroke="#222222" stroke-width="2.2"/>
<circle cx="1184.3" cy="527.9" r="8.2" fill="#800080" stroke="#222222" stroke-width="2.2"/>
<circle cx="1190.2" cy="527.9" r="8.2" fill="#800080" stroke="#222222" stroke-width="2.2"/>
<circle cx="1209.9" cy="527.9" r="8.2" fill="#800080" stroke="#222222" stroke-width="2.2"/>
<circle cx="1214.2" cy="527.9" r="8.2" fill="#800080" stroke="#222222" stroke-width="2.2"/>
<circle cx="1179.8" cy="527.9" r="8.2" fill="#800080" stroke="#222222" stroke-width="2.2"/>
<circle cx="1203.5" cy="527.9" r="8.2" fill="#800080" stroke="#222222" stroke-width="2.2"/>
<circle cx="1179.9" cy="527.9" r="8.2" fill="#800080" stroke="#222222" stroke-width="2.2"/>
<circle cx="1207.8" cy="527.9" r="8.2" fill="#800080" stroke="#222222" stroke-width="2.2"/>
<circle cx="1191.7" cy="527.9" r="8.2" fill="#800080" stroke="#222222" stroke-width="2.2"/>
<circle cx="1214.6" cy="527.9" r="8.2" fill="#800080" stroke="#222222" stroke-width="2.2"/>
<circle cx="1218.7" cy="527.9" r="8.2" fill="#800080" stroke="#222222" stroke-width="2.2"/>
<circle cx="1199.0" cy="527.9" r="8.2" fill="#800080" stroke="#222222" stroke-width="2.2"/>
<circle cx="1219.4" cy="527.9" r="8.2" fill="#800080" stroke="#222222" stroke-width="2.2"/>
<circle cx="1190.9" cy="527.9" r="8.2" fill="#800080" stroke="#222222" stroke-width="2.2"/>
<circle cx="1178.0" cy="527.6" r="8.2" fill="#800080" stroke="#222222" stroke-width="2.2"/>
<circle cx="1191.0" cy="527.6" r="8.2" fill="#800080" stroke="#222222" stroke-width="2.2"/>
<circle cx="1213.0" cy="527.6" r="8.2" fill="#800080" stroke="#222222" stroke-width="2.2"/>
<circle cx="1126.7" cy="218.3" r="8.2" fill="#800080" stroke="#222222" stroke-width="2.2"/>
<circle cx="1116.7" cy="422.5" r="8.2" fill="#800080" stroke="#222222" stroke-width="2.2"/>
<circle cx="1120.8" cy="435.8" r="8.2" fill="#800080" stroke="#222222" stroke-width="2.2"/>
<circle cx="1131.7" cy="458.7" r="8.2" fill="#800080" stroke="#222222" stroke-width="2.2"/>
<circle cx="1275.8" cy="285.8" r="8.2" fill="#800080" stroke="#222222" stroke-width="2.2"/>
<circle cx="1304.7" cy="309.5" r="8.2" fill="#800080" stroke="#222222" stroke-width="2.2"/>
<circle cx="1310.8" cy="296.7" r="8.2" fill="#800080" stroke="#222222" stroke-width="2.2"/>
<circle cx="1290.0" cy="332.8" r="8.2" fill="#800080" stroke="#222222" stroke-width="2.2"/>
<circle cx="1273.3" cy="453.3" r="8.2" fill="#800080" stroke="#222222" stroke-width="2.2"/>
<line x1="1501.90" y1="200.00" x2="1501.90" y2="550.45" stroke="#000" stroke-width="3.3" stroke-linecap="butt"/>
<line x1="1500.25" y1="548.80" x2="1794.00" y2="548.80" stroke="#000" stroke-width="3.3" stroke-linecap="butt"/>
<line x1="1487.20" y1="531.40" x2="1501.90" y2="531.40" stroke="#000" stroke-width="3.3" stroke-linecap="butt"/>
<text transform="translate(1472.70,541.30) scale(1,1.07)" font-size="26.9" text-anchor="end">0</text>
<line x1="1487.20" y1="460.20" x2="1501.90" y2="460.20" stroke="#000" stroke-width="3.3" stroke-linecap="butt"/>
<text transform="translate(1472.70,470.10) scale(1,1.07)" font-size="26.9" text-anchor="end">2000</text>
<line x1="1487.20" y1="389.00" x2="1501.90" y2="389.00" stroke="#000" stroke-width="3.3" stroke-linecap="butt"/>
<text transform="translate(1472.70,398.90) scale(1,1.07)" font-size="26.9" text-anchor="end">4000</text>
<line x1="1487.20" y1="317.80" x2="1501.90" y2="317.80" stroke="#000" stroke-width="3.3" stroke-linecap="butt"/>
<text transform="translate(1472.70,327.70) scale(1,1.07)" font-size="26.9" text-anchor="end">6000</text>
<line x1="1487.20" y1="246.60" x2="1501.90" y2="246.60" stroke="#000" stroke-width="3.3" stroke-linecap="butt"/>
<text transform="translate(1472.70,256.50) scale(1,1.07)" font-size="26.9" text-anchor="end">8000</text>
<line x1="1538.30" y1="548.80" x2="1538.30" y2="562.60" stroke="#000" stroke-width="3.3" stroke-linecap="butt"/>
<line x1="1610.80" y1="548.80" x2="1610.80" y2="562.60" stroke="#000" stroke-width="3.3" stroke-linecap="butt"/>
<line x1="1683.30" y1="548.80" x2="1683.30" y2="562.60" stroke="#000" stroke-width="3.3" stroke-linecap="butt"/>
<line x1="1755.80" y1="548.80" x2="1755.80" y2="562.60" stroke="#000" stroke-width="3.3" stroke-linecap="butt"/>
<text transform="translate(1549.70,581.10) rotate(-90) scale(1,1.04)" font-size="27.35" text-anchor="end">TMZ untreated (12)</text>
<text transform="translate(1622.20,581.10) rotate(-90) scale(1,1.04)" font-size="27.35" text-anchor="end">MGMT-notmet (6)</text>
<text transform="translate(1694.70,581.10) rotate(-90) scale(1,1.04)" font-size="27.35" text-anchor="end">MGMT-met (2)</text>
<text transform="translate(1767.20,581.10) rotate(-90) scale(1,1.04)" font-size="27.35" text-anchor="end">MMR-def (8)</text>
<line x1="1600.00" y1="865.60" x2="1788.00" y2="865.60" stroke="#000" stroke-width="3.3" stroke-linecap="butt"/>
<text transform="translate(1689.20,907.00) scale(1,1.04)" font-size="27" text-anchor="middle">TMZ</text>
<text transform="translate(1688.70,940.00) scale(1,1.04)" font-size="27" text-anchor="middle">treated</text>
<rect x="1654.35" y="483.05" width="58.50" height="27.60" fill="#eeeeee" stroke="#999999" stroke-width="3.7"/>
<rect x="1727.15" y="449.65" width="58.20" height="42.20" fill="#eeeeee" stroke="#999999" stroke-width="3.7"/>
<circle cx="1523.3" cy="531.4" r="8.0" fill="#800080" stroke="#000000" stroke-width="2.6"/>
<circle cx="1551.0" cy="531.4" r="8.0" fill="#800080" stroke="#000000" stroke-width="2.6"/>
<circle cx="1546.0" cy="531.4" r="8.0" fill="#800080" stroke="#000000" stroke-width="2.6"/>
<circle cx="1534.2" cy="531.4" r="8.0" fill="#800080" stroke="#000000" stroke-width="2.6"/>
<circle cx="1599.7" cy="531.4" r="8.0" fill="#800080" stroke="#000000" stroke-width="2.6"/>
<circle cx="1610.8" cy="531.4" r="8.0" fill="#800080" stroke="#000000" stroke-width="2.6"/>
<circle cx="1625.3" cy="531.4" r="8.0" fill="#800080" stroke="#000000" stroke-width="2.6"/>
<circle cx="1683.3" cy="470.0" r="8.0" fill="#800080" stroke="#000000" stroke-width="2.6"/>
<circle cx="1674.2" cy="524.7" r="8.0" fill="#800080" stroke="#000000" stroke-width="2.6"/>
<circle cx="1753.3" cy="219.2" r="8.0" fill="#800080" stroke="#000000" stroke-width="2.6"/>
<circle cx="1752.5" cy="448.3" r="8.0" fill="#800080" stroke="#000000" stroke-width="2.6"/>
<circle cx="1762.5" cy="450.8" r="8.0" fill="#800080" stroke="#000000" stroke-width="2.6"/>
<circle cx="1753.0" cy="482.5" r="8.0" fill="#800080" stroke="#000000" stroke-width="2.6"/>
<circle cx="1759.2" cy="491.7" r="8.0" fill="#800080" stroke="#000000" stroke-width="2.6"/>
<circle cx="1752.5" cy="493.3" r="8.0" fill="#800080" stroke="#000000" stroke-width="2.6"/>
<circle cx="1761.7" cy="514.7" r="8.0" fill="#800080" stroke="#000000" stroke-width="2.6"/>
<line x1="1507.20" y1="531.40" x2="1569.20" y2="531.40" stroke="#999999" stroke-width="3.7" stroke-linecap="butt"/>
<line x1="1579.70" y1="531.40" x2="1641.70" y2="531.40" stroke="#999999" stroke-width="3.7" stroke-linecap="butt"/>
<line x1="1683.60" y1="483.05" x2="1683.60" y2="469.70" stroke="#999999" stroke-width="3.7" stroke-linecap="butt"/>
<line x1="1683.60" y1="510.65" x2="1683.60" y2="524.70" stroke="#999999" stroke-width="3.7" stroke-linecap="butt"/>
<line x1="1667.00" y1="469.70" x2="1700.00" y2="469.70" stroke="#999999" stroke-width="3.7" stroke-linecap="butt"/>
<line x1="1667.00" y1="524.70" x2="1700.00" y2="524.70" stroke="#999999" stroke-width="3.7" stroke-linecap="butt"/>
<line x1="1654.35" y1="496.70" x2="1712.85" y2="496.70" stroke="#999999" stroke-width="3.7" stroke-linecap="butt"/>
<line x1="1756.20" y1="449.65" x2="1756.20" y2="447.50" stroke="#999999" stroke-width="3.7" stroke-linecap="butt"/>
<line x1="1756.20" y1="491.85" x2="1756.20" y2="514.70" stroke="#999999" stroke-width="3.7" stroke-linecap="butt"/>
<line x1="1739.50" y1="447.50" x2="1772.80" y2="447.50" stroke="#999999" stroke-width="3.7" stroke-linecap="butt"/>
<line x1="1739.50" y1="514.70" x2="1772.80" y2="514.70" stroke="#999999" stroke-width="3.7" stroke-linecap="butt"/>
<line x1="1727.15" y1="467.80" x2="1785.35" y2="467.80" stroke="#999999" stroke-width="3.7" stroke-linecap="butt"/>
<text transform="translate(1795.80,220.80) scale(1,1.04)" font-size="25.1" text-anchor="start">&gt;36 cycles</text>
<text transform="translate(1795.80,252.50) scale(1,1.04)" font-size="25.1" text-anchor="start">of treatment</text>
<line x1="1808.30" y1="408.30" x2="1808.30" y2="514.20" stroke="#000" stroke-width="3.0" stroke-linecap="butt"/>
<text transform="translate(1822.00,456.70) scale(1,1.04)" font-size="25.1" text-anchor="start">6-17 cycles</text>
<text transform="translate(1822.00,486.70) scale(1,1.04)" font-size="25.1" text-anchor="start">of treatment</text>
</svg>
</body></html>
